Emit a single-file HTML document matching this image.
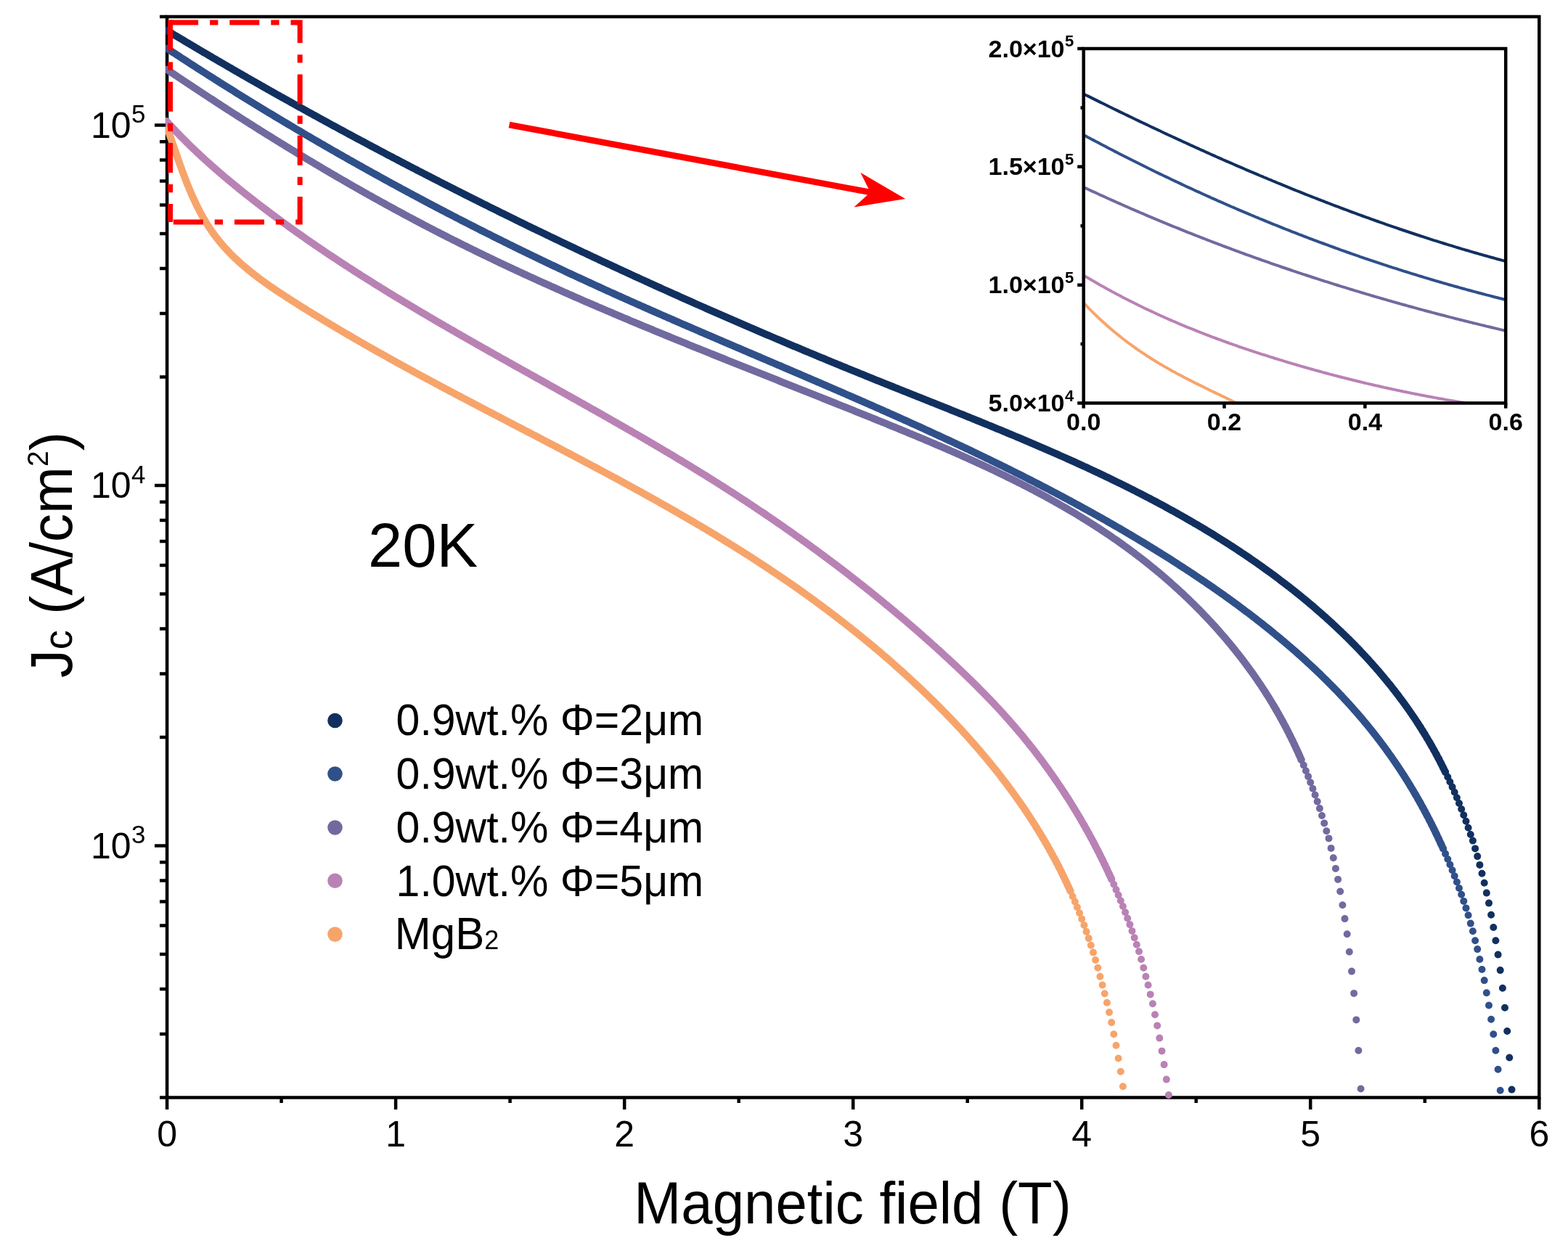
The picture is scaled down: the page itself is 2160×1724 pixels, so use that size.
<!DOCTYPE html>
<html><head><meta charset="utf-8"><title>Jc vs field</title><style>html,body{margin:0;padding:0;background:#fff;overflow:hidden}svg{display:block}</style></head>
<body><svg xmlns="http://www.w3.org/2000/svg" width="2160" height="1724" viewBox="0 0 2160 1724">
<defs><clipPath id="mc"><rect x="228" y="21" width="1894" height="1493.5"/></clipPath><clipPath id="ic"><rect x="1492.7" y="67" width="581.5" height="488.5"/></clipPath></defs>
<rect width="2160" height="1724" fill="#fff"/>
<g font-family="'Liberation Sans', Arial, Helvetica, sans-serif" fill="#000">
<path d="M213 1165.5H230.1M213 669H230.1M213 172.5H230.1M220 1512.5H230.1M220 1425.1H230.1M220 1363H230.1M220 1314.9H230.1M220 1275.6H230.1M220 1242.4H230.1M220 1213.6H230.1M220 1188.2H230.1M220 1016H230.1M220 928.6H230.1M220 866.5H230.1M220 818.4H230.1M220 779.1H230.1M220 745.9H230.1M220 717.1H230.1M220 691.7H230.1M220 519.5H230.1M220 432.1H230.1M220 370H230.1M220 321.9H230.1M220 282.6H230.1M220 249.4H230.1M220 220.6H230.1M220 195.2H230.1M220 23H230.1M230.1 1512.5V1529M545.1 1512.5V1529M860.2 1512.5V1529M1175.2 1512.5V1529M1490.2 1512.5V1529M1805.2 1512.5V1529M2120.3 1512.5V1529M387.6 1512.5V1520M702.6 1512.5V1520M1017.7 1512.5V1520M1332.7 1512.5V1520M1647.7 1512.5V1520M1962.8 1512.5V1520" stroke="#000" stroke-width="4.5" fill="none"/>
<rect x="230.1" y="23" width="1890.2" height="1489.5" fill="none" stroke="#000" stroke-width="4.5"/>
<text x="124.9" y="1182.9" font-size="50">10<tspan x="181.1" y="1162.2" font-size="35">3</tspan></text>
<text x="124.9" y="686.4" font-size="50">10<tspan x="181.1" y="665.7" font-size="35">4</tspan></text>
<text x="124.9" y="189.9" font-size="50">10<tspan x="181.1" y="169.2" font-size="35">5</tspan></text>
<text x="230.1" y="1579.5" font-size="50" text-anchor="middle">0</text>
<text x="545.1" y="1579.5" font-size="50" text-anchor="middle">1</text>
<text x="860.2" y="1579.5" font-size="50" text-anchor="middle">2</text>
<text x="1175.2" y="1579.5" font-size="50" text-anchor="middle">3</text>
<text x="1490.2" y="1579.5" font-size="50" text-anchor="middle">4</text>
<text x="1805.2" y="1579.5" font-size="50" text-anchor="middle">5</text>
<text x="2120.3" y="1579.5" font-size="50" text-anchor="middle">6</text>
</g>
<g clip-path="url(#mc)"><path d="M230.9 177.8 231.9 180.5 232.8 183.1 233.6 185.5 234.4 187.9 235.3 190.3 236.1 192.7 236.9 195.1 237.7 197.5 238.6 200 239.4 202.4 240.3 204.9 241.1 207.4 242 209.8 242.8 212.3 243.7 214.8 244.6 217.3 245.4 219.8 246.3 222.3 247.2 224.8 248.1 227.3 249 229.8 249.9 232.3 250.8 234.8 251.8 237.3 252.7 239.9 253.6 242.4 254.6 244.9 255.6 247.4 256.5 249.9 257.5 252.4 258.5 254.9 259.6 257.4 260.6 259.9 261.6 262.3 262.7 264.8 263.7 267.3 264.8 269.7 265.9 272.2 267 274.6 268.2 277 269.3 279.5 270.5 281.9 271.6 284.3 272.8 286.6 274 289 275.2 291.4 276.5 293.7 277.7 296 279 298.3 280.3 300.6 281.6 302.9 283 305.2 284.3 307.4 285.7 309.6 287.1 311.8 288.5 314 290 316.2 291.4 318.3 292.9 320.4 294.4 322.5 296 324.6 297.5 326.7 299.1 328.7 300.7 330.7 302.3 332.7 303.9 334.7 305.6 336.6 307.3 338.6 309 340.5 310.7 342.4 312.4 344.2 314.1 346.1 315.9 347.9 317.7 349.8 319.5 351.6 321.3 353.4 323.1 355.1 325 356.9 326.9 358.6 328.7 360.4 330.6 362.1 332.5 363.8 334.5 365.5 336.4 367.1 338.4 368.8 340.3 370.4 342.3 372.1 344.3 373.7 346.3 375.3 348.3 376.9 350.3 378.5 352.4 380 354.4 381.6 356.5 383.1 358.5 384.7 360.6 386.2 362.7 387.7 364.8 389.2 366.9 390.7 369 392.2 371.1 393.7 373.2 395.2 375.4 396.6 377.5 398.1 379.6 399.6 381.8 401 383.9 402.4 386.1 403.9 388.3 405.3 390.4 406.7 392.6 408.1 394.8 409.5 397 411 399.2 412.4 401.4 413.8 403.5 415.2 405.7 416.5 407.9 417.9 410.1 419.3 412.3 420.7 414.5 422.1 416.7 423.5 418.9 424.9 421.1 426.2 423.3 427.6 425.6 429 427.8 430.3 430 431.7 432.2 433.1 434.4 434.4 436.6 435.8 438.8 437.1 441.1 438.5 443.3 439.8 445.5 441.2 447.7 442.5 449.9 443.9 452.2 445.2 454.4 446.5 456.6 447.9 458.9 449.2 461.1 450.5 463.3 451.9 465.6 453.2 467.8 454.5 470 455.8 472.3 457.1 474.5 458.5 476.8 459.8 479 461.1 481.2 462.4 483.5 463.7 485.7 465 488 466.3 490.2 467.6 492.5 468.9 494.7 470.2 497 471.5 499.2 472.8 501.5 474.1 503.8 475.4 506 476.7 508.3 478 510.5 479.3 512.8 480.5 515.1 481.8 517.3 483.1 519.6 484.4 521.8 485.7 524.1 486.9 526.4 488.2 528.7 489.5 530.9 490.7 533.2 492 535.5 493.3 537.7 494.5 540 495.8 542.3 497.1 544.6 498.3 546.8 499.6 549.1 500.8 551.4 502.1 553.7 503.4 556 504.6 558.2 505.9 560.5 507.1 562.8 508.4 565.1 509.6 567.4 510.8 569.7 512.1 571.9 513.3 574.2 514.6 576.5 515.8 578.8 517.1 581.1 518.3 583.4 519.5 585.7 520.8 588 522 590.3 523.2 592.6 524.5 594.8 525.7 597.1 526.9 599.4 528.2 601.7 529.4 604 530.6 606.3 531.8 608.6 533.1 610.9 534.3 613.2 535.5 615.5 536.7 617.8 538 620.1 539.2 622.4 540.4 624.7 541.6 627 542.8 629.3 544.1 631.6 545.3 633.9 546.5 636.2 547.7 638.5 548.9 640.8 550.1 643.2 551.4 645.5 552.6 647.8 553.8 650.1 555 652.4 556.2 654.7 557.4 657 558.6 659.3 559.8 661.6 561 663.9 562.3 666.2 563.5 668.5 564.7 670.8 565.9 673.1 567.1 675.5 568.3 677.8 569.5 680.1 570.7 682.4 571.9 684.7 573.1 687 574.3 689.3 575.5 691.6 576.7 693.9 577.9 696.3 579.1 698.6 580.4 700.9 581.6 703.2 582.8 705.5 584 707.8 585.2 710.1 586.4 712.4 587.6 714.7 588.8 717.1 590 719.4 591.2 721.7 592.4 724 593.6 726.3 594.8 728.6 596 730.9 597.2 733.2 598.4 735.6 599.6 737.9 600.8 740.2 602 742.5 603.2 744.8 604.4 747.1 605.7 749.4 606.9 751.7 608.1 754 609.3 756.4 610.5 758.7 611.7 761 612.9 763.3 614.1 765.6 615.3 767.9 616.5 770.2 617.7 772.5 618.9 774.8 620.2 777.1 621.4 779.4 622.6 781.8 623.8 784.1 625 786.4 626.2 788.7 627.4 791 628.6 793.3 629.9 795.6 631.1 797.9 632.3 800.2 633.5 802.5 634.7 804.8 636 807.1 637.2 809.4 638.4 811.7 639.6 814 640.8 816.3 642.1 818.6 643.3 820.9 644.5 823.2 645.7 825.5 647 827.8 648.2 830.1 649.4 832.4 650.7 834.7 651.9 837 653.1 839.3 654.4 841.6 655.6 843.9 656.8 846.2 658.1 848.5 659.3 850.8 660.5 853 661.8 855.3 663 857.6 664.3 859.9 665.5 862.2 666.8 864.5 668 866.8 669.3 869.1 670.5 871.3 671.8 873.6 673 875.9 674.3 878.2 675.5 880.5 676.8 882.8 678 885 679.3 887.3 680.6 889.6 681.8 891.9 683.1 894.1 684.4 896.4 685.6 898.7 686.9 901 688.2 903.2 689.4 905.5 690.7 907.8 692 910.1 693.3 912.3 694.6 914.6 695.8 916.9 697.1 919.1 698.4 921.4 699.7 923.6 701 925.9 702.3 928.2 703.6 930.4 704.9 932.7 706.2 934.9 707.5 937.2 708.8 939.4 710.1 941.7 711.4 944 712.7 946.2 714 948.5 715.3 950.7 716.6 952.9 717.9 955.2 719.2 957.4 720.5 959.7 721.9 961.9 723.2 964.2 724.5 966.4 725.8 968.6 727.2 970.9 728.5 973.1 729.8 975.3 731.2 977.6 732.5 979.8 733.9 982 735.2 984.3 736.6 986.5 737.9 988.7 739.3 990.9 740.6 993.2 742 995.4 743.3 997.6 744.7 999.8 746.1 1002 747.4 1004.3 748.8 1006.5 750.2 1008.7 751.5 1010.9 752.9 1013.1 754.3 1015.3 755.7 1017.5 757.1 1019.7 758.4 1021.9 759.8 1024.1 761.2 1026.3 762.6 1028.5 764 1030.7 765.4 1032.9 766.8 1035.1 768.2 1037.3 769.7 1039.5 771.1 1041.6 772.5 1043.8 773.9 1046 775.3 1048.2 776.8 1050.4 778.2 1052.6 779.6 1054.7 781 1056.9 782.5 1059.1 783.9 1061.2 785.4 1063.4 786.8 1065.6 788.3 1067.7 789.7 1069.9 791.2 1072.1 792.6 1074.2 794.1 1076.4 795.6 1078.5 797 1080.7 798.5 1082.8 800 1085 801.5 1087.1 802.9 1089.3 804.4 1091.4 805.9 1093.6 807.4 1095.7 808.9 1097.8 810.4 1100 811.9 1102.1 813.4 1104.2 814.9 1106.3 816.4 1108.5 818 1110.6 819.5 1112.7 821 1114.8 822.5 1116.9 824.1 1119.1 825.6 1121.2 827.1 1123.3 828.7 1125.4 830.2 1127.5 831.8 1129.6 833.3 1131.7 834.9 1133.8 836.4 1135.9 838 1138 839.5 1140.1 841.1 1142.1 842.7 1144.2 844.3 1146.3 845.8 1148.4 847.4 1150.5 849 1152.5 850.6 1154.6 852.2 1156.7 853.8 1158.7 855.4 1160.8 857 1162.9 858.6 1164.9 860.2 1167 861.8 1169 863.4 1171.1 865 1173.1 866.7 1175.2 868.3 1177.2 869.9 1179.3 871.5 1181.3 873.2 1183.3 874.8 1185.3 876.5 1187.4 878.1 1189.4 879.8 1191.4 881.4 1193.4 883.1 1195.5 884.7 1197.5 886.4 1199.5 888.1 1201.5 889.7 1203.5 891.4 1205.5 893.1 1207.5 894.8 1209.5 896.4 1211.5 898.1 1213.4 899.8 1215.4 901.5 1217.4 903.2 1219.4 904.9 1221.4 906.6 1223.3 908.3 1225.3 910 1227.3 911.8 1229.2 913.5 1231.2 915.2 1233.1 916.9 1235.1 918.7 1237 920.4 1239 922.1 1240.9 923.9 1242.9 925.6 1244.8 927.4 1246.7 929.1 1248.6 930.9 1250.6 932.6 1252.5 934.4 1254.4 936.2 1256.3 937.9 1258.2 939.7 1260.1 941.5 1262 943.3 1263.9 945 1265.8 946.8 1267.7 948.6 1269.6 950.4 1271.5 952.2 1273.4 954 1275.2 955.8 1277.1 957.6 1279 959.4 1280.8 961.2 1282.7 963.1 1284.6 964.9 1286.4 966.7 1288.3 968.5 1290.1 970.4 1291.9 972.2 1293.8 974.1 1295.6 975.9 1297.4 977.8 1299.3 979.6 1301.1 981.5 1302.9 983.3 1304.7 985.2 1306.5 987.1 1308.3 988.9 1310.1 990.8 1311.9 992.7 1313.7 994.6 1315.5 996.4 1317.2 998.3 1319 1000.2 1320.8 1002.1 1322.6 1004 1324.3 1005.9 1326.1 1007.8 1327.8 1009.8 1329.6 1011.7 1331.3 1013.6 1333 1015.5 1334.8 1017.5 1336.5 1019.4 1338.2 1021.3 1339.9 1023.3 1341.6 1025.2 1343.3 1027.2 1345 1029.1 1346.7 1031.1 1348.4 1033 1350.1 1035 1351.8 1037 1353.4 1038.9 1355.1 1040.9 1356.8 1042.9 1358.4 1044.9 1360.1 1046.9 1361.7 1048.9 1363.4 1050.9 1365 1052.9 1366.6 1054.9 1368.2 1056.9 1369.9 1058.9 1371.5 1060.9 1373.1 1062.9 1374.7 1064.9 1376.3 1067 1377.9 1069 1379.4 1071 1381 1073.1 1382.6 1075.1 1384.1 1077.2 1385.7 1079.2 1387.2 1081.3 1388.8 1083.4 1390.3 1085.4 1391.9 1087.5 1393.4 1089.6 1394.9 1091.7 1396.4 1093.7 1397.9 1095.8 1399.4 1097.9 1400.9 1100 1402.4 1102.1 1403.9 1104.2 1405.4 1106.3 1406.8 1108.5 1408.3 1110.6 1409.7 1112.7 1411.2 1114.8 1412.6 1117 1414.1 1119.1 1415.5 1121.2 1416.9 1123.4 1418.3 1125.5 1419.7 1127.7 1421.1 1129.9 1422.5 1132 1423.9 1134.2 1425.3 1136.4 1426.6 1138.5 1428 1140.7 1429.3 1142.9 1430.7 1145.1 1432 1147.3 1433.4 1149.5 1434.7 1151.7 1436 1153.9 1437.3 1156.1 1438.6 1158.3 1439.9 1160.6 1441.2 1162.8 1442.5 1165 1443.8 1167.2 1445 1169.5 1446.3 1171.7 1447.5 1174 1448.8 1176.2 1450 1178.5 1451.2 1180.8 1452.5 1183 1453.7 1185.3 1454.9 1187.6 1456.1 1189.9 1457.2 1192.1 1458.4 1194.4 1459.6 1196.7 1460.8 1199 1461.9 1201.3 1463.1 1203.7 1464.2 1206 1465.3 1208.3 1466.4 1210.6 1467.5 1212.9 1468.7 1215.3 1469.7 1217.6 1470.8 1220 1471.9 1222.3 1473 1224.7 1474 1227 1474.4 1227.9" stroke="#f7a46b" stroke-width="10" stroke-linecap="round" stroke-linejoin="round" fill="none"/>
<path d="M1436.7 1155h0M1439.8 1160.4h0M1443 1165.8h0M1446.1 1171.4h0M1449.3 1177.1h0M1452.4 1183h0M1455.6 1188.9h0M1458.7 1195h0M1461.9 1201.3h0M1465 1207.7h0M1468.2 1214.3h0M1471.3 1221h0M1474.5 1228h0M1477.6 1235.2h0M1480.8 1242.6h0M1483.9 1250.3h0M1487.1 1258.2h0M1490.2 1266.4h0M1493.4 1275h0M1496.5 1283.9h0M1499.7 1293.1h0M1502.8 1302.7h0M1506 1312.6h0M1509.1 1323h0M1512.3 1333.8h0M1515.4 1345.7h0M1518.6 1357.5h0M1521.7 1369.3h0M1524.9 1381.8h0M1528 1395.1h0M1531.2 1409.1h0M1534.3 1425.2h0M1537.5 1440.7h0M1540.6 1458.5h0M1543.8 1476.8h0M1546.9 1497.2h0" stroke="#f7a46b" stroke-width="10" stroke-linecap="round" fill="none"/>
<path d="M229.3 166.9 231.1 168.9 232.9 170.9 234.8 172.9 236.6 174.9 238.4 176.8 240.3 178.8 242.1 180.7 244 182.7 245.9 184.6 247.7 186.6 249.6 188.5 251.5 190.4 253.4 192.3 255.3 194.2 257.2 196.1 259.1 198 261 199.9 263 201.8 264.9 203.6 266.8 205.5 268.8 207.3 270.7 209.2 272.7 211 274.6 212.8 276.6 214.7 278.5 216.5 280.5 218.3 282.5 220.1 284.5 221.9 286.5 223.7 288.5 225.5 290.5 227.3 292.5 229.1 294.5 230.8 296.5 232.6 298.5 234.3 300.5 236.1 302.5 237.8 304.6 239.6 306.6 241.3 308.6 243.1 310.7 244.8 312.7 246.5 314.8 248.2 316.8 249.9 318.9 251.6 321 253.3 323 255 325.1 256.7 327.2 258.4 329.2 260.1 331.3 261.8 333.4 263.4 335.5 265.1 337.6 266.8 339.7 268.4 341.8 270.1 343.9 271.7 346 273.4 348.1 275 350.2 276.7 352.3 278.3 354.4 279.9 356.5 281.6 358.6 283.2 360.7 284.8 362.9 286.4 365 288 367.1 289.6 369.2 291.2 371.4 292.9 373.5 294.4 375.6 296 377.8 297.6 379.9 299.2 382.1 300.8 384.2 302.4 386.4 304 388.5 305.5 390.7 307.1 392.8 308.7 395 310.2 397.2 311.8 399.3 313.4 401.5 314.9 403.7 316.5 405.8 318 408 319.6 410.2 321.1 412.4 322.6 414.5 324.2 416.7 325.7 418.9 327.2 421.1 328.8 423.3 330.3 425.5 331.8 427.7 333.3 429.9 334.8 432.1 336.3 434.2 337.9 436.5 339.4 438.7 340.9 440.9 342.4 443.1 343.9 445.3 345.3 447.5 346.8 449.7 348.3 451.9 349.8 454.1 351.3 456.4 352.8 458.6 354.3 460.8 355.7 463 357.2 465.2 358.7 467.5 360.1 469.7 361.6 471.9 363.1 474.2 364.5 476.4 366 478.6 367.4 480.9 368.9 483.1 370.3 485.4 371.8 487.6 373.2 489.9 374.7 492.1 376.1 494.4 377.5 496.6 379 498.9 380.4 501.1 381.8 503.4 383.2 505.6 384.7 507.9 386.1 510.2 387.5 512.4 388.9 514.7 390.3 516.9 391.8 519.2 393.2 521.5 394.6 523.8 396 526 397.4 528.3 398.8 530.6 400.2 532.8 401.6 535.1 403 537.4 404.4 539.7 405.8 542 407.2 544.2 408.6 546.5 410 548.8 411.3 551.1 412.7 553.4 414.1 555.7 415.5 558 416.9 560.3 418.2 562.6 419.6 564.9 421 567.1 422.4 569.4 423.7 571.7 425.1 574 426.5 576.3 427.8 578.6 429.2 580.9 430.6 583.2 431.9 585.6 433.3 587.9 434.6 590.2 436 592.5 437.4 594.8 438.7 597.1 440.1 599.4 441.4 601.7 442.8 604 444.1 606.3 445.5 608.7 446.8 611 448.1 613.3 449.5 615.6 450.8 617.9 452.2 620.2 453.5 622.6 454.9 624.9 456.2 627.2 457.5 629.5 458.9 631.8 460.2 634.2 461.5 636.5 462.9 638.8 464.2 641.1 465.5 643.5 466.8 645.8 468.2 648.1 469.5 650.5 470.8 652.8 472.2 655.1 473.5 657.4 474.8 659.8 476.1 662.1 477.4 664.4 478.8 666.8 480.1 669.1 481.4 671.4 482.7 673.8 484.1 676.1 485.4 678.5 486.7 680.8 488 683.1 489.3 685.5 490.6 687.8 491.9 690.1 493.3 692.5 494.6 694.8 495.9 697.2 497.2 699.5 498.5 701.8 499.8 704.2 501.1 706.5 502.5 708.9 503.8 711.2 505.1 713.5 506.4 715.9 507.7 718.2 509 720.6 510.3 722.9 511.6 725.2 512.9 727.6 514.2 729.9 515.6 732.3 516.9 734.6 518.2 737 519.5 739.3 520.8 741.6 522.1 744 523.4 746.3 524.7 748.7 526 751 527.3 753.4 528.6 755.7 530 758 531.3 760.4 532.6 762.7 533.9 765.1 535.2 767.4 536.5 769.8 537.8 772.1 539.1 774.4 540.4 776.8 541.7 779.1 543.1 781.5 544.4 783.8 545.7 786.2 547 788.5 548.3 790.8 549.6 793.2 550.9 795.5 552.2 797.9 553.6 800.2 554.9 802.5 556.2 804.9 557.5 807.2 558.8 809.6 560.1 811.9 561.5 814.2 562.8 816.6 564.1 818.9 565.4 821.2 566.7 823.6 568.1 825.9 569.4 828.3 570.7 830.6 572 832.9 573.3 835.3 574.7 837.6 576 839.9 577.3 842.3 578.7 844.6 580 846.9 581.3 849.2 582.6 851.6 584 853.9 585.3 856.2 586.6 858.6 588 860.9 589.3 863.2 590.7 865.5 592 867.9 593.3 870.2 594.7 872.5 596 874.8 597.4 877.2 598.7 879.5 600 881.8 601.4 884.1 602.7 886.4 604.1 888.8 605.4 891.1 606.8 893.4 608.1 895.7 609.5 898 610.9 900.3 612.2 902.6 613.6 905 614.9 907.3 616.3 909.6 617.7 911.9 619 914.2 620.4 916.5 621.8 918.8 623.1 921.1 624.5 923.4 625.9 925.7 627.2 928 628.6 930.3 630 932.6 631.4 934.9 632.8 937.2 634.1 939.5 635.5 941.8 636.9 944.1 638.3 946.4 639.7 948.7 641.1 951 642.5 953.2 643.9 955.5 645.3 957.8 646.7 960.1 648.1 962.4 649.5 964.7 650.9 966.9 652.3 969.2 653.7 971.5 655.1 973.8 656.5 976.1 658 978.3 659.4 980.6 660.8 982.9 662.2 985.1 663.6 987.4 665.1 989.7 666.5 991.9 667.9 994.2 669.4 996.4 670.8 998.7 672.3 1001 673.7 1003.2 675.1 1005.5 676.6 1007.7 678 1010 679.5 1012.2 680.9 1014.5 682.4 1016.7 683.9 1019 685.3 1021.2 686.8 1023.4 688.3 1025.7 689.7 1027.9 691.2 1030.2 692.7 1032.4 694.1 1034.6 695.6 1036.9 697.1 1039.1 698.6 1041.3 700.1 1043.5 701.6 1045.8 703.1 1048 704.6 1050.2 706 1052.4 707.5 1054.6 709 1056.9 710.6 1059.1 712.1 1061.3 713.6 1063.5 715.1 1065.7 716.6 1067.9 718.1 1070.1 719.6 1072.3 721.2 1074.5 722.7 1076.7 724.2 1078.9 725.7 1081.1 727.3 1083.3 728.8 1085.5 730.3 1087.7 731.9 1089.9 733.4 1092.1 735 1094.2 736.5 1096.4 738.1 1098.6 739.6 1100.8 741.2 1103 742.7 1105.1 744.3 1107.3 745.8 1109.5 747.4 1111.7 749 1113.8 750.5 1116 752.1 1118.1 753.7 1120.3 755.3 1122.5 756.8 1124.6 758.4 1126.8 760 1128.9 761.6 1131.1 763.2 1133.2 764.8 1135.4 766.4 1137.5 768 1139.7 769.6 1141.8 771.2 1144 772.8 1146.1 774.4 1148.2 776 1150.4 777.6 1152.5 779.2 1154.6 780.8 1156.8 782.5 1158.9 784.1 1161 785.7 1163.1 787.3 1165.3 789 1167.4 790.6 1169.5 792.2 1171.6 793.9 1173.7 795.5 1175.8 797.2 1177.9 798.8 1180 800.4 1182.1 802.1 1184.2 803.8 1186.3 805.4 1188.4 807.1 1190.5 808.7 1192.6 810.4 1194.7 812.1 1196.8 813.7 1198.9 815.4 1201 817.1 1203.1 818.8 1205.1 820.4 1207.2 822.1 1209.3 823.8 1211.4 825.5 1213.4 827.2 1215.5 828.9 1217.6 830.6 1219.6 832.3 1221.7 834 1223.8 835.7 1225.8 837.4 1227.9 839.1 1229.9 840.8 1232 842.5 1234 844.2 1236.1 846 1238.1 847.7 1240.2 849.4 1242.2 851.1 1244.2 852.9 1246.3 854.6 1248.3 856.3 1250.3 858.1 1252.4 859.8 1254.4 861.6 1256.4 863.3 1258.4 865.1 1260.5 866.8 1262.5 868.6 1264.5 870.3 1266.5 872.1 1268.5 873.9 1270.5 875.6 1272.5 877.4 1274.5 879.2 1276.5 880.9 1278.5 882.7 1280.5 884.5 1282.5 886.3 1284.5 888.1 1286.5 889.9 1288.5 891.6 1290.5 893.4 1292.5 895.2 1294.4 897 1296.4 898.8 1298.4 900.6 1300.4 902.5 1302.3 904.3 1304.3 906.1 1306.3 907.9 1308.2 909.7 1310.2 911.5 1312.1 913.4 1314.1 915.2 1316 917 1318 918.8 1319.9 920.7 1321.9 922.5 1323.8 924.4 1325.7 926.2 1327.7 928.1 1329.6 929.9 1331.5 931.8 1333.4 933.6 1335.4 935.5 1337.3 937.4 1339.2 939.2 1341.1 941.1 1343 943 1344.9 944.9 1346.8 946.8 1348.6 948.7 1350.5 950.6 1352.4 952.5 1354.3 954.4 1356.1 956.3 1358 958.2 1359.9 960.1 1361.7 962 1363.6 963.9 1365.4 965.9 1367.3 967.8 1369.1 969.7 1370.9 971.7 1372.7 973.6 1374.6 975.6 1376.4 977.5 1378.2 979.5 1380 981.5 1381.8 983.4 1383.6 985.4 1385.3 987.4 1387.1 989.4 1388.9 991.4 1390.7 993.4 1392.4 995.4 1394.2 997.4 1395.9 999.4 1397.7 1001.4 1399.4 1003.4 1401.1 1005.4 1402.8 1007.5 1404.5 1009.5 1406.3 1011.5 1408 1013.6 1409.7 1015.6 1411.3 1017.7 1413 1019.8 1414.7 1021.8 1416.4 1023.9 1418 1026 1419.7 1028.1 1421.3 1030.1 1423 1032.2 1424.6 1034.3 1426.2 1036.4 1427.9 1038.5 1429.5 1040.7 1431.1 1042.8 1432.7 1044.9 1434.3 1047 1435.9 1049.1 1437.5 1051.3 1439 1053.4 1440.6 1055.6 1442.2 1057.7 1443.7 1059.9 1445.3 1062 1446.8 1064.2 1448.3 1066.4 1449.9 1068.5 1451.4 1070.7 1452.9 1072.9 1454.4 1075.1 1455.9 1077.3 1457.4 1079.5 1458.9 1081.7 1460.4 1083.9 1461.9 1086.1 1463.3 1088.3 1464.8 1090.5 1466.2 1092.7 1467.7 1095 1469.1 1097.2 1470.6 1099.4 1472 1101.7 1473.4 1103.9 1474.8 1106.2 1476.2 1108.4 1477.6 1110.7 1479 1113 1480.4 1115.2 1481.8 1117.5 1483.2 1119.8 1484.5 1122.1 1485.9 1124.3 1487.2 1126.6 1488.6 1128.9 1489.9 1131.2 1491.2 1133.5 1492.6 1135.8 1493.9 1138.1 1495.2 1140.4 1496.5 1142.8 1497.8 1145.1 1499.1 1147.4 1500.4 1149.7 1501.6 1152.1 1502.9 1154.4 1504.2 1156.7 1505.4 1159.1 1506.7 1161.4 1507.9 1163.8 1509.1 1166.2 1510.4 1168.5 1511.6 1170.9 1512.8 1173.2 1514 1175.6 1515.2 1178 1516.4 1180.4 1517.5 1182.8 1518.7 1185.1 1519.9 1187.5 1521 1189.9 1522.2 1192.3 1523.3 1194.7 1524.5 1197.1 1525.6 1199.5 1526.7 1202 1527.9 1204.4 1529 1206.8 1530.1 1209.2 1531.2 1211.6 1531.2 1211.6" stroke="#b982b5" stroke-width="10" stroke-linecap="round" stroke-linejoin="round" fill="none"/>
<path d="M1493.4 1137.2h0M1496.5 1142.8h0M1499.7 1148.5h0M1502.8 1154.3h0M1506 1160.1h0M1509.1 1166.1h0M1512.3 1172.2h0M1515.4 1178.5h0M1518.6 1184.8h0M1521.7 1191.3h0M1524.9 1198h0M1528 1204.7h0M1531.2 1211.7h0M1534.3 1218.8h0M1537.5 1226.1h0M1540.6 1233.5h0M1543.8 1241.2h0M1546.9 1249h0M1550.1 1257.2h0M1553.2 1265.5h0M1556.4 1274.1h0M1559.5 1283h0M1562.7 1292.2h0M1565.8 1301.8h0M1569 1311.3h0M1572.1 1322h0M1575.3 1333.8h0M1578.4 1345.7h0M1581.6 1357.5h0M1584.7 1370.4h0M1587.9 1383.3h0M1591 1398.3h0M1594.2 1413.4h0M1597.3 1430.6h0M1600.5 1448.4h0M1603.6 1467.1h0M1606.8 1487.6h0M1609.9 1509h0" stroke="#b982b5" stroke-width="10" stroke-linecap="round" fill="none"/>
<path d="M230 95.8 232.2 97.3 234.5 98.8 236.7 100.3 239 101.9 241.2 103.4 243.5 104.9 245.7 106.4 248 107.9 250.2 109.4 252.5 110.9 254.7 112.4 257 113.9 259.3 115.4 261.5 116.9 263.8 118.4 266 119.9 268.3 121.4 270.6 122.9 272.8 124.4 275.1 125.9 277.4 127.4 279.6 128.9 281.9 130.4 284.2 131.9 286.5 133.4 288.7 134.9 291 136.3 293.3 137.8 295.6 139.3 297.8 140.8 300.1 142.3 302.4 143.8 304.7 145.3 307 146.7 309.3 148.2 311.5 149.7 313.8 151.2 316.1 152.6 318.4 154.1 320.7 155.6 323 157.1 325.3 158.5 327.6 160 329.9 161.5 332.2 162.9 334.5 164.4 336.8 165.9 339.1 167.3 341.4 168.8 343.7 170.2 346 171.7 348.3 173.1 350.6 174.6 352.9 176.1 355.2 177.5 357.5 179 359.8 180.4 362.1 181.9 364.4 183.3 366.7 184.7 369 186.2 371.3 187.6 373.7 189.1 376 190.5 378.3 191.9 380.6 193.4 382.9 194.8 385.2 196.2 387.6 197.7 389.9 199.1 392.2 200.5 394.5 202 396.9 203.4 399.2 204.8 401.5 206.2 403.8 207.6 406.2 209.1 408.5 210.5 410.8 211.9 413.2 213.3 415.5 214.7 417.8 216.1 420.2 217.5 422.5 218.9 424.8 220.3 427.2 221.7 429.5 223.1 431.9 224.5 434.2 225.9 436.6 227.3 438.9 228.7 441.2 230.1 443.6 231.5 445.9 232.9 448.3 234.3 450.6 235.7 453 237 455.3 238.4 457.7 239.8 460 241.2 462.4 242.5 464.7 243.9 467.1 245.3 469.5 246.7 471.8 248 474.2 249.4 476.5 250.7 478.9 252.1 481.3 253.5 483.6 254.8 486 256.2 488.3 257.5 490.7 258.9 493.1 260.2 495.4 261.6 497.8 262.9 500.2 264.3 502.6 265.6 504.9 266.9 507.3 268.3 509.7 269.6 512.1 270.9 514.4 272.3 516.8 273.6 519.2 274.9 521.6 276.2 523.9 277.6 526.3 278.9 528.7 280.2 531.1 281.5 533.5 282.8 535.9 284.1 538.2 285.4 540.6 286.7 543 288 545.4 289.3 547.8 290.6 550.2 291.9 552.6 293.2 555 294.5 557.4 295.8 559.8 297.1 562.1 298.4 564.5 299.6 566.9 300.9 569.3 302.2 571.7 303.5 574.1 304.7 576.5 306 578.9 307.3 581.3 308.5 583.7 309.8 586.1 311.1 588.6 312.3 591 313.6 593.4 314.8 595.8 316.1 598.2 317.3 600.6 318.6 603 319.8 605.4 321 607.8 322.3 610.2 323.5 612.7 324.7 615.1 326 617.5 327.2 619.9 328.4 622.3 329.6 624.7 330.9 627.2 332.1 629.6 333.3 632 334.5 634.4 335.7 636.9 336.9 639.3 338.1 641.7 339.3 644.1 340.5 646.6 341.7 649 342.9 651.4 344.1 653.8 345.3 656.3 346.5 658.7 347.7 661.1 348.9 663.6 350 666 351.2 668.4 352.4 670.9 353.6 673.3 354.7 675.7 355.9 678.2 357.1 680.6 358.2 683.1 359.4 685.5 360.6 687.9 361.7 690.4 362.9 692.8 364 695.3 365.2 697.7 366.4 700.2 367.5 702.6 368.7 705.1 369.8 707.5 370.9 709.9 372.1 712.4 373.2 714.8 374.4 717.3 375.5 719.7 376.6 722.2 377.8 724.7 378.9 727.1 380 729.6 381.2 732 382.3 734.5 383.4 736.9 384.5 739.4 385.6 741.8 386.8 744.3 387.9 746.8 389 749.2 390.1 751.7 391.2 754.1 392.3 756.6 393.4 759.1 394.5 761.5 395.6 764 396.7 766.5 397.8 768.9 398.9 771.4 400 773.9 401.1 776.3 402.2 778.8 403.3 781.3 404.4 783.7 405.5 786.2 406.6 788.7 407.7 791.2 408.8 793.6 409.9 796.1 410.9 798.6 412 801.1 413.1 803.5 414.2 806 415.3 808.5 416.3 811 417.4 813.4 418.5 815.9 419.5 818.4 420.6 820.9 421.7 823.4 422.8 825.9 423.8 828.3 424.9 830.8 425.9 833.3 427 835.8 428.1 838.3 429.1 840.8 430.2 843.2 431.2 845.7 432.3 848.2 433.4 850.7 434.4 853.2 435.5 855.7 436.5 858.2 437.6 860.7 438.6 863.2 439.7 865.6 440.7 868.1 441.8 870.6 442.8 873.1 443.8 875.6 444.9 878.1 445.9 880.6 447 883.1 448 885.6 449.1 888.1 450.1 890.6 451.1 893.1 452.2 895.6 453.2 898.1 454.2 900.6 455.3 903.1 456.3 905.6 457.3 908.1 458.4 910.6 459.4 913.1 460.4 915.6 461.5 918.1 462.5 920.6 463.5 923.1 464.5 925.6 465.6 928.1 466.6 930.6 467.6 933.1 468.6 935.7 469.7 938.2 470.7 940.7 471.7 943.2 472.7 945.7 473.7 948.2 474.8 950.7 475.8 953.2 476.8 955.7 477.8 958.2 478.8 960.8 479.8 963.3 480.9 965.8 481.9 968.3 482.9 970.8 483.9 973.3 484.9 975.8 485.9 978.4 487 980.9 488 983.4 489 985.9 490 988.4 491 990.9 492 993.5 493 996 494 998.5 495 1001 496.1 1003.5 497.1 1006.1 498.1 1008.6 499.1 1011.1 500.1 1013.6 501.1 1016.1 502.1 1018.7 503.1 1021.2 504.1 1023.7 505.1 1026.2 506.1 1028.8 507.1 1031.3 508.1 1033.8 509.2 1036.3 510.2 1038.9 511.2 1041.4 512.2 1043.9 513.2 1046.4 514.2 1049 515.2 1051.5 516.2 1054 517.2 1056.5 518.2 1059.1 519.2 1061.6 520.2 1064.1 521.2 1066.7 522.2 1069.2 523.2 1071.7 524.2 1074.3 525.3 1076.8 526.3 1079.3 527.3 1081.8 528.3 1084.4 529.3 1086.9 530.3 1089.4 531.3 1092 532.3 1094.5 533.3 1097 534.3 1099.6 535.3 1102.1 536.3 1104.6 537.3 1107.2 538.3 1109.7 539.4 1112.3 540.4 1114.8 541.4 1117.3 542.4 1119.9 543.4 1122.4 544.4 1124.9 545.4 1127.5 546.4 1130 547.4 1132.5 548.5 1135.1 549.5 1137.6 550.5 1140.2 551.5 1142.7 552.5 1145.2 553.5 1147.8 554.5 1150.3 555.5 1152.9 556.6 1155.4 557.6 1157.9 558.6 1160.5 559.6 1163 560.6 1165.6 561.7 1168.1 562.7 1170.6 563.7 1173.2 564.7 1175.7 565.7 1178.3 566.8 1180.8 567.8 1183.4 568.8 1185.9 569.8 1188.4 570.8 1191 571.9 1193.5 572.9 1196.1 573.9 1198.6 574.9 1201.2 576 1203.7 577 1206.2 578 1208.8 579.1 1211.3 580.1 1213.9 581.1 1216.4 582.2 1219 583.2 1221.5 584.2 1224.1 585.3 1226.6 586.3 1229.1 587.3 1231.7 588.4 1234.2 589.4 1236.8 590.5 1239.3 591.5 1241.9 592.6 1244.4 593.6 1246.9 594.7 1249.5 595.7 1252 596.8 1254.6 597.8 1257.1 598.9 1259.6 599.9 1262.2 601 1264.7 602 1267.3 603.1 1269.8 604.2 1272.3 605.2 1274.9 606.3 1277.4 607.4 1279.9 608.4 1282.5 609.5 1285 610.6 1287.5 611.7 1290 612.8 1292.6 613.8 1295.1 614.9 1297.6 616 1300.1 617.1 1302.7 618.2 1305.2 619.3 1307.7 620.4 1310.2 621.5 1312.7 622.6 1315.3 623.7 1317.8 624.8 1320.3 625.9 1322.8 627 1325.3 628.2 1327.8 629.3 1330.3 630.4 1332.8 631.5 1335.3 632.7 1337.8 633.8 1340.3 634.9 1342.8 636.1 1345.3 637.2 1347.8 638.4 1350.3 639.5 1352.8 640.7 1355.3 641.8 1357.8 643 1360.3 644.1 1362.7 645.3 1365.2 646.5 1367.7 647.6 1370.2 648.8 1372.6 650 1375.1 651.2 1377.6 652.4 1380 653.6 1382.5 654.8 1385 656 1387.4 657.2 1389.9 658.4 1392.3 659.6 1394.8 660.8 1397.2 662 1399.7 663.2 1402.1 664.5 1404.6 665.7 1407 666.9 1409.4 668.2 1411.9 669.4 1414.3 670.7 1416.7 671.9 1419.1 673.2 1421.6 674.4 1424 675.7 1426.4 677 1428.8 678.3 1431.2 679.5 1433.6 680.8 1436 682.1 1438.4 683.4 1440.8 684.7 1443.2 686 1445.6 687.3 1448 688.7 1450.3 690 1452.7 691.3 1455.1 692.6 1457.5 694 1459.8 695.3 1462.2 696.7 1464.5 698 1466.9 699.4 1469.2 700.7 1471.6 702.1 1473.9 703.5 1476.3 704.9 1478.6 706.2 1480.9 707.6 1483.3 709 1485.6 710.4 1487.9 711.8 1490.2 713.2 1492.5 714.7 1494.9 716.1 1497.2 717.5 1499.5 719 1501.8 720.4 1504 721.9 1506.3 723.3 1508.6 724.8 1510.9 726.2 1513.2 727.7 1515.4 729.2 1517.7 730.7 1520 732.2 1522.2 733.7 1524.5 735.2 1526.7 736.7 1528.9 738.2 1531.2 739.7 1533.4 741.3 1535.6 742.8 1537.9 744.3 1540.1 745.9 1542.3 747.5 1544.5 749 1546.7 750.6 1548.9 752.2 1551.1 753.8 1553.3 755.4 1555.5 757 1557.6 758.6 1559.8 760.2 1562 761.8 1564.1 763.4 1566.3 765.1 1568.4 766.7 1570.6 768.4 1572.7 770 1574.9 771.7 1577 773.3 1579.1 775 1581.2 776.7 1583.3 778.4 1585.4 780.1 1587.5 781.8 1589.6 783.5 1591.7 785.2 1593.8 787 1595.9 788.7 1598 790.4 1600 792.2 1602.1 793.9 1604.1 795.7 1606.2 797.4 1608.2 799.2 1610.3 801 1612.3 802.8 1614.3 804.6 1616.3 806.4 1618.3 808.2 1620.3 810 1622.3 811.8 1624.3 813.6 1626.3 815.5 1628.3 817.3 1630.3 819.1 1632.2 821 1634.2 822.9 1636.1 824.7 1638.1 826.6 1640 828.5 1641.9 830.4 1643.9 832.2 1645.8 834.1 1647.7 836.1 1649.6 838 1651.5 839.9 1653.4 841.8 1655.3 843.7 1657.1 845.7 1659 847.6 1660.9 849.6 1662.7 851.5 1664.6 853.5 1666.4 855.5 1668.2 857.4 1670 859.4 1671.9 861.4 1673.7 863.4 1675.5 865.4 1677.3 867.4 1679.1 869.4 1680.8 871.4 1682.6 873.5 1684.4 875.5 1686.1 877.5 1687.9 879.6 1689.6 881.6 1691.3 883.7 1693.1 885.8 1694.8 887.8 1696.5 889.9 1698.2 892 1699.9 894.1 1701.6 896.2 1703.2 898.3 1704.9 900.4 1706.6 902.5 1708.2 904.6 1709.9 906.7 1711.5 908.9 1713.1 911 1714.7 913.1 1716.3 915.3 1717.9 917.5 1719.5 919.6 1721.1 921.8 1722.7 924 1724.3 926.1 1725.8 928.3 1727.4 930.5 1728.9 932.7 1730.4 934.9 1732 937.1 1733.5 939.4 1735 941.6 1736.5 943.8 1738 946 1739.4 948.3 1740.9 950.5 1742.4 952.8 1743.8 955 1745.2 957.3 1746.7 959.6 1748.1 961.8 1749.5 964.1 1750.9 966.4 1752.3 968.7 1753.7 971 1755.1 973.3 1756.4 975.6 1757.8 977.9 1759.1 980.3 1760.5 982.6 1761.8 984.9 1763.1 987.3 1764.4 989.6 1765.7 992 1767 994.3 1768.3 996.7 1769.5 999.1 1770.8 1001.4 1772.1 1003.8 1773.3 1006.2 1774.5 1008.6 1775.7 1011 1776.9 1013.4 1778.1 1015.8 1779.3 1018.2 1780.5 1020.6 1781.7 1023.1 1782.8 1025.5 1784 1027.9 1785.1 1030.4 1786.3 1032.8 1787.4 1035.3 1788.5 1037.7 1789.6 1040.2 1790.7 1042.6 1791.8 1045.1 1792.5 1046.9" stroke="#716a9f" stroke-width="10" stroke-linecap="round" stroke-linejoin="round" fill="none"/>
<path d="M1754.8 972.9h0M1758 978.3h0M1761.1 983.8h0M1764.3 989.4h0M1767.4 995.1h0M1770.6 1001h0M1773.7 1007.1h0M1776.9 1013.3h0M1780 1019.7h0M1783.2 1026.3h0M1786.3 1033h0M1789.5 1040h0M1792.6 1047.1h0M1795.8 1054.5h0M1798.9 1062.2h0M1802.1 1070.1h0M1805.2 1078.2h0M1808.4 1086.7h0M1811.6 1095.5h0M1814.7 1104.6h0M1817.9 1114.1h0M1821 1124h0M1824.2 1134.4h0M1827.3 1145.2h0M1830.5 1155.4h0M1833.6 1168.9h0M1836.8 1182.3h0M1839.9 1196.9h0M1843.1 1211.9h0M1846.2 1228.5h0M1849.4 1247.2h0M1852.5 1266.1h0M1855.7 1287.2h0M1858.8 1311.7h0M1862 1338.6h0M1865.1 1368.9h0M1868.3 1405.4h0M1871.4 1447.8h0M1874.6 1500.5h0" stroke="#716a9f" stroke-width="10" stroke-linecap="round" fill="none"/>
<path d="M230.1 66.8 232.5 68.3 234.9 69.9 237.3 71.5 239.7 73.1 242.1 74.6 244.5 76.2 247 77.8 249.4 79.4 251.8 80.9 254.2 82.5 256.6 84 259 85.6 261.4 87.2 263.8 88.7 266.3 90.3 268.7 91.8 271.1 93.4 273.5 94.9 275.9 96.5 278.3 98 280.8 99.6 283.2 101.1 285.6 102.7 288 104.2 290.5 105.8 292.9 107.3 295.3 108.8 297.7 110.4 300.2 111.9 302.6 113.4 305 115 307.4 116.5 309.9 118 312.3 119.6 314.7 121.1 317.2 122.6 319.6 124.1 322 125.6 324.5 127.2 326.9 128.7 329.4 130.2 331.8 131.7 334.2 133.2 336.7 134.7 339.1 136.2 341.6 137.7 344 139.2 346.4 140.7 348.9 142.2 351.3 143.7 353.8 145.2 356.2 146.7 358.7 148.2 361.1 149.7 363.6 151.2 366 152.7 368.5 154.2 370.9 155.7 373.4 157.1 375.8 158.6 378.3 160.1 380.8 161.6 383.2 163.1 385.7 164.5 388.1 166 390.6 167.5 393 168.9 395.5 170.4 398 171.9 400.4 173.3 402.9 174.8 405.4 176.3 407.8 177.7 410.3 179.2 412.8 180.6 415.2 182.1 417.7 183.6 420.2 185 422.6 186.5 425.1 187.9 427.6 189.4 430.1 190.8 432.5 192.2 435 193.7 437.5 195.1 440 196.6 442.4 198 444.9 199.4 447.4 200.9 449.9 202.3 452.4 203.7 454.8 205.2 457.3 206.6 459.8 208 462.3 209.4 464.8 210.9 467.3 212.3 469.8 213.7 472.2 215.1 474.7 216.5 477.2 217.9 479.7 219.4 482.2 220.8 484.7 222.2 487.2 223.6 489.7 225 492.2 226.4 494.7 227.8 497.2 229.2 499.7 230.6 502.2 232 504.7 233.4 507.2 234.8 509.7 236.2 512.2 237.6 514.7 239 517.2 240.3 519.7 241.7 522.2 243.1 524.7 244.5 527.2 245.9 529.7 247.3 532.2 248.6 534.7 250 537.2 251.4 539.8 252.8 542.3 254.1 544.8 255.5 547.3 256.9 549.8 258.2 552.3 259.6 554.8 261 557.4 262.3 559.9 263.7 562.4 265 564.9 266.4 567.4 267.7 570 269.1 572.5 270.4 575 271.8 577.5 273.1 580.1 274.5 582.6 275.8 585.1 277.2 587.6 278.5 590.2 279.9 592.7 281.2 595.2 282.5 597.8 283.9 600.3 285.2 602.8 286.5 605.4 287.9 607.9 289.2 610.4 290.5 613 291.8 615.5 293.2 618 294.5 620.6 295.8 623.1 297.1 625.7 298.4 628.2 299.8 630.8 301.1 633.3 302.4 635.8 303.7 638.4 305 640.9 306.3 643.5 307.6 646 308.9 648.6 310.2 651.1 311.5 653.7 312.8 656.2 314.1 658.8 315.4 661.3 316.7 663.9 318 666.5 319.3 669 320.6 671.6 321.9 674.1 323.1 676.7 324.4 679.2 325.7 681.8 327 684.4 328.3 686.9 329.6 689.5 330.8 692.1 332.1 694.6 333.4 697.2 334.6 699.7 335.9 702.3 337.2 704.9 338.4 707.5 339.7 710 341 712.6 342.2 715.2 343.5 717.7 344.8 720.3 346 722.9 347.3 725.5 348.5 728 349.8 730.6 351 733.2 352.3 735.8 353.5 738.4 354.8 740.9 356 743.5 357.2 746.1 358.5 748.7 359.7 751.3 361 753.8 362.2 756.4 363.4 759 364.7 761.6 365.9 764.2 367.1 766.8 368.3 769.4 369.6 772 370.8 774.6 372 777.2 373.2 779.7 374.4 782.3 375.7 784.9 376.9 787.5 378.1 790.1 379.3 792.7 380.5 795.3 381.7 797.9 382.9 800.5 384.1 803.1 385.3 805.7 386.5 808.3 387.7 810.9 388.9 813.5 390.1 816.1 391.3 818.8 392.5 821.4 393.7 824 394.9 826.6 396.1 829.2 397.3 831.8 398.5 834.4 399.7 837 400.9 839.6 402 842.3 403.2 844.9 404.4 847.5 405.6 850.1 406.8 852.7 407.9 855.3 409.1 857.9 410.3 860.6 411.5 863.2 412.6 865.8 413.8 868.4 415 871 416.1 873.7 417.3 876.3 418.5 878.9 419.6 881.5 420.8 884.2 422 886.8 423.1 889.4 424.3 892 425.4 894.7 426.6 897.3 427.8 899.9 428.9 902.5 430.1 905.2 431.2 907.8 432.4 910.4 433.5 913.1 434.7 915.7 435.8 918.3 437 920.9 438.1 923.6 439.3 926.2 440.4 928.8 441.6 931.5 442.7 934.1 443.9 936.7 445 939.4 446.2 942 447.3 944.6 448.4 947.3 449.6 949.9 450.7 952.6 451.9 955.2 453 957.8 454.1 960.5 455.3 963.1 456.4 965.7 457.6 968.4 458.7 971 459.8 973.7 461 976.3 462.1 978.9 463.2 981.6 464.4 984.2 465.5 986.8 466.6 989.5 467.8 992.1 468.9 994.8 470 997.4 471.2 1000 472.3 1002.7 473.4 1005.3 474.6 1008 475.7 1010.6 476.8 1013.3 478 1015.9 479.1 1018.5 480.2 1021.2 481.3 1023.8 482.5 1026.5 483.6 1029.1 484.7 1031.7 485.9 1034.4 487 1037 488.1 1039.7 489.2 1042.3 490.4 1045 491.5 1047.6 492.6 1050.2 493.8 1052.9 494.9 1055.5 496 1058.2 497.1 1060.8 498.3 1063.5 499.4 1066.1 500.5 1068.7 501.7 1071.4 502.8 1074 503.9 1076.7 505 1079.3 506.2 1081.9 507.3 1084.6 508.4 1087.2 509.6 1089.9 510.7 1092.5 511.8 1095.2 513 1097.8 514.1 1100.4 515.2 1103.1 516.4 1105.7 517.5 1108.4 518.6 1111 519.8 1113.6 520.9 1116.3 522 1118.9 523.2 1121.6 524.3 1124.2 525.4 1126.8 526.6 1129.5 527.7 1132.1 528.8 1134.7 530 1137.4 531.1 1140 532.3 1142.7 533.4 1145.3 534.5 1147.9 535.7 1150.6 536.8 1153.2 538 1155.8 539.1 1158.5 540.2 1161.1 541.4 1163.7 542.5 1166.4 543.7 1169 544.8 1171.6 546 1174.3 547.1 1176.9 548.3 1179.5 549.4 1182.2 550.6 1184.8 551.7 1187.4 552.9 1190.1 554 1192.7 555.2 1195.3 556.3 1197.9 557.5 1200.6 558.6 1203.2 559.8 1205.8 561 1208.4 562.1 1211.1 563.3 1213.7 564.4 1216.3 565.6 1218.9 566.8 1221.6 567.9 1224.2 569.1 1226.8 570.3 1229.4 571.4 1232.1 572.6 1234.7 573.8 1237.3 574.9 1239.9 576.1 1242.5 577.3 1245.1 578.5 1247.8 579.6 1250.4 580.8 1253 582 1255.6 583.2 1258.2 584.4 1260.8 585.5 1263.4 586.7 1266.1 587.9 1268.7 589.1 1271.3 590.3 1273.9 591.5 1276.5 592.7 1279.1 593.9 1281.7 595.1 1284.3 596.3 1286.9 597.5 1289.5 598.7 1292.1 599.9 1294.7 601.1 1297.3 602.3 1299.9 603.5 1302.5 604.7 1305.1 605.9 1307.7 607.1 1310.3 608.3 1312.9 609.5 1315.5 610.7 1318.1 612 1320.7 613.2 1323.3 614.4 1325.9 615.6 1328.5 616.9 1331.1 618.1 1333.7 619.3 1336.3 620.5 1338.8 621.8 1341.4 623 1344 624.2 1346.6 625.5 1349.2 626.7 1351.8 628 1354.4 629.2 1356.9 630.4 1359.5 631.7 1362.1 632.9 1364.7 634.2 1367.2 635.5 1369.8 636.7 1372.4 638 1375 639.2 1377.5 640.5 1380.1 641.8 1382.7 643 1385.2 644.3 1387.8 645.6 1390.4 646.8 1392.9 648.1 1395.5 649.4 1398.1 650.7 1400.6 652 1403.2 653.2 1405.7 654.5 1408.3 655.8 1410.8 657.1 1413.4 658.4 1416 659.7 1418.5 661 1421.1 662.3 1423.6 663.6 1426.2 664.9 1428.7 666.2 1431.2 667.5 1433.8 668.8 1436.3 670.2 1438.9 671.5 1441.4 672.8 1444 674.1 1446.5 675.4 1449 676.8 1451.6 678.1 1454.1 679.4 1456.6 680.8 1459.2 682.1 1461.7 683.5 1464.2 684.8 1466.7 686.2 1469.3 687.5 1471.8 688.9 1474.3 690.2 1476.8 691.6 1479.3 692.9 1481.9 694.3 1484.4 695.7 1486.9 697 1489.4 698.4 1491.9 699.8 1494.4 701.2 1496.9 702.5 1499.4 703.9 1501.9 705.3 1504.4 706.7 1506.9 708.1 1509.4 709.5 1511.9 710.9 1514.4 712.3 1516.9 713.7 1519.4 715.1 1521.9 716.5 1524.4 717.9 1526.9 719.4 1529.4 720.8 1531.9 722.2 1534.3 723.6 1536.8 725.1 1539.3 726.5 1541.8 727.9 1544.3 729.4 1546.7 730.8 1549.2 732.3 1551.7 733.7 1554.1 735.2 1556.6 736.6 1559.1 738.1 1561.5 739.6 1564 741 1566.5 742.5 1568.9 744 1571.4 745.5 1573.8 746.9 1576.3 748.4 1578.7 749.9 1581.2 751.4 1583.6 752.9 1586.1 754.4 1588.5 755.9 1591 757.4 1593.4 758.9 1595.8 760.4 1598.3 761.9 1600.7 763.5 1603.1 765 1605.6 766.5 1608 768.1 1610.4 769.6 1612.8 771.1 1615.3 772.7 1617.7 774.2 1620.1 775.8 1622.5 777.3 1624.9 778.9 1627.3 780.4 1629.7 782 1632.2 783.6 1634.6 785.2 1637 786.7 1639.4 788.3 1641.8 789.9 1644.2 791.5 1646.5 793.1 1648.9 794.7 1651.3 796.3 1653.7 797.9 1656.1 799.5 1658.5 801.1 1660.9 802.7 1663.2 804.4 1665.6 806 1668 807.6 1670.3 809.2 1672.7 810.9 1675 812.5 1677.4 814.2 1679.8 815.8 1682.1 817.5 1684.5 819.1 1686.8 820.8 1689.1 822.5 1691.5 824.2 1693.8 825.8 1696.1 827.5 1698.5 829.2 1700.8 830.9 1703.1 832.6 1705.4 834.3 1707.7 836 1710 837.7 1712.3 839.4 1714.6 841.2 1716.9 842.9 1719.2 844.6 1721.5 846.3 1723.8 848.1 1726 849.8 1728.3 851.6 1730.6 853.3 1732.8 855.1 1735.1 856.9 1737.4 858.6 1739.6 860.4 1741.9 862.2 1744.1 864 1746.3 865.7 1748.6 867.5 1750.8 869.3 1753 871.1 1755.2 873 1757.4 874.8 1759.6 876.6 1761.8 878.4 1764 880.2 1766.2 882.1 1768.4 883.9 1770.6 885.8 1772.8 887.6 1774.9 889.5 1777.1 891.3 1779.3 893.2 1781.4 895.1 1783.6 896.9 1785.7 898.8 1787.8 900.7 1790 902.6 1792.1 904.5 1794.2 906.4 1796.3 908.3 1798.4 910.2 1800.5 912.2 1802.6 914.1 1804.7 916 1806.8 918 1808.9 919.9 1810.9 921.9 1813 923.8 1815.1 925.8 1817.1 927.7 1819.2 929.7 1821.2 931.7 1823.2 933.7 1825.2 935.7 1827.3 937.7 1829.3 939.7 1831.3 941.7 1833.3 943.7 1835.3 945.7 1837.2 947.7 1839.2 949.8 1841.2 951.8 1843.2 953.8 1845.1 955.9 1847.1 958 1849 960 1850.9 962.1 1852.9 964.2 1854.8 966.2 1856.7 968.3 1858.6 970.4 1860.5 972.5 1862.4 974.6 1864.2 976.7 1866.1 978.9 1868 981 1869.8 983.1 1871.7 985.3 1873.5 987.4 1875.4 989.5 1877.2 991.7 1879 993.9 1880.8 996 1882.6 998.2 1884.4 1000.4 1886.2 1002.6 1888 1004.8 1889.7 1007 1891.5 1009.2 1893.2 1011.4 1895 1013.6 1896.7 1015.9 1898.4 1018.1 1900.1 1020.4 1901.8 1022.6 1903.5 1024.9 1905.2 1027.1 1906.9 1029.4 1908.6 1031.7 1910.2 1034 1911.9 1036.3 1913.5 1038.6 1915.2 1040.9 1916.8 1043.2 1918.4 1045.5 1920 1047.8 1921.6 1050.1 1923.2 1052.5 1924.8 1054.8 1926.4 1057.2 1927.9 1059.5 1929.5 1061.9 1931 1064.3 1932.5 1066.6 1934.1 1069 1935.6 1071.4 1937.1 1073.8 1938.6 1076.2 1940.1 1078.6 1941.6 1081 1943 1083.5 1944.5 1085.9 1946 1088.3 1947.4 1090.8 1948.8 1093.2 1950.3 1095.7 1951.7 1098.1 1953.1 1100.6 1954.5 1103 1955.9 1105.5 1957.3 1108 1958.6 1110.5 1960 1113 1961.4 1115.5 1962.7 1118 1964 1120.5 1965.4 1123 1966.7 1125.5 1968 1128 1969.3 1130.5 1970.6 1133.1 1971.9 1135.6 1973.2 1138.1 1974.4 1140.7 1975.7 1143.2 1976.9 1145.8 1978.2 1148.4 1979.4 1150.9 1980.6 1153.5 1981.8 1156.1 1983 1158.7 1984.2 1161.3 1985.4 1163.9 1986.6 1166.4 1987.8 1169 1987.9 1169.4" stroke="#30508a" stroke-width="10" stroke-linecap="round" stroke-linejoin="round" fill="none"/>
<path d="M1950.2 1095.5h0M1953.3 1101h0M1956.5 1106.5h0M1959.6 1112.2h0M1962.8 1118.1h0M1965.9 1124h0M1969.1 1130.1h0M1972.2 1136.3h0M1975.4 1142.6h0M1978.5 1149.1h0M1981.7 1155.7h0M1984.8 1162.5h0M1988 1169.5h0M1991.1 1176.6h0M1994.3 1184h0M1997.4 1191.5h0M2000.6 1199.3h0M2003.7 1207.3h0M2006.9 1215.5h0M2010 1224h0M2013.2 1232.8h0M2016.3 1241.9h0M2019.5 1251.4h0M2022.6 1261.2h0M2025.8 1272.6h0M2028.9 1283.3h0M2032.1 1296.2h0M2035.2 1308.1h0M2038.4 1322h0M2041.5 1336h0M2044.7 1351.1h0M2047.8 1368.3h0M2051 1385.5h0M2054.1 1404.8h0M2057.3 1425.3h0M2060.4 1447.8h0M2063.6 1473.7h0M2066.7 1502.7h0" stroke="#30508a" stroke-width="10" stroke-linecap="round" fill="none"/>
<path d="M230.3 42.2 232.5 43.5 234.6 44.8 236.8 46.1 238.9 47.4 241.1 48.7 243.2 49.9 245.4 51.2 247.5 52.5 249.7 53.8 251.8 55.1 254 56.4 256.2 57.7 258.3 59 260.5 60.2 262.6 61.5 264.8 62.8 266.9 64.1 269.1 65.4 271.3 66.6 273.4 67.9 275.6 69.2 277.8 70.5 279.9 71.8 282.1 73 284.3 74.3 286.4 75.6 288.6 76.9 290.8 78.1 292.9 79.4 295.1 80.7 297.3 81.9 299.5 83.2 301.6 84.5 303.8 85.7 306 87 308.2 88.3 310.3 89.5 312.5 90.8 314.7 92.1 316.9 93.3 319 94.6 321.2 95.9 323.4 97.1 325.6 98.4 327.8 99.6 329.9 100.9 332.1 102.1 334.3 103.4 336.5 104.7 338.7 105.9 340.9 107.2 343 108.4 345.2 109.7 347.4 110.9 349.6 112.2 351.8 113.4 354 114.7 356.2 115.9 358.4 117.1 360.5 118.4 362.7 119.6 364.9 120.9 367.1 122.1 369.3 123.4 371.5 124.6 373.7 125.8 375.9 127.1 378.1 128.3 380.3 129.6 382.5 130.8 384.7 132 386.9 133.3 389.1 134.5 391.3 135.7 393.5 137 395.7 138.2 397.9 139.4 400.1 140.6 402.3 141.9 404.5 143.1 406.7 144.3 408.9 145.6 411.1 146.8 413.3 148 415.5 149.2 417.7 150.4 419.9 151.7 422.1 152.9 424.3 154.1 426.5 155.3 428.8 156.5 431 157.8 433.2 159 435.4 160.2 437.6 161.4 439.8 162.6 442 163.8 444.2 165 446.4 166.3 448.7 167.5 450.9 168.7 453.1 169.9 455.3 171.1 457.5 172.3 459.7 173.5 461.9 174.7 464.2 175.9 466.4 177.1 468.6 178.3 470.8 179.5 473 180.7 475.2 181.9 477.5 183.1 479.7 184.3 481.9 185.5 484.1 186.7 486.3 187.9 488.6 189.1 490.8 190.3 493 191.5 495.2 192.7 497.5 193.9 499.7 195 501.9 196.2 504.1 197.4 506.4 198.6 508.6 199.8 510.8 201 513 202.2 515.3 203.3 517.5 204.5 519.7 205.7 521.9 206.9 524.2 208.1 526.4 209.2 528.6 210.4 530.9 211.6 533.1 212.8 535.3 214 537.5 215.1 539.8 216.3 542 217.5 544.2 218.6 546.5 219.8 548.7 221 550.9 222.2 553.2 223.3 555.4 224.5 557.6 225.7 559.9 226.8 562.1 228 564.3 229.2 566.6 230.3 568.8 231.5 571 232.6 573.3 233.8 575.5 235 577.7 236.1 580 237.3 582.2 238.4 584.5 239.6 586.7 240.7 588.9 241.9 591.2 243 593.4 244.2 595.7 245.3 597.9 246.5 600.1 247.6 602.4 248.8 604.6 249.9 606.9 251.1 609.1 252.2 611.3 253.4 613.6 254.5 615.8 255.7 618.1 256.8 620.3 257.9 622.5 259.1 624.8 260.2 627 261.4 629.3 262.5 631.5 263.6 633.8 264.8 636 265.9 638.2 267 640.5 268.2 642.7 269.3 645 270.4 647.2 271.6 649.5 272.7 651.7 273.8 654 274.9 656.2 276.1 658.5 277.2 660.7 278.3 663 279.5 665.2 280.6 667.5 281.7 669.7 282.8 671.9 283.9 674.2 285.1 676.4 286.2 678.7 287.3 680.9 288.4 683.2 289.5 685.5 290.6 687.7 291.8 690 292.9 692.2 294 694.5 295.1 696.7 296.2 699 297.3 701.2 298.4 703.5 299.5 705.7 300.6 708 301.7 710.2 302.9 712.5 304 714.7 305.1 717 306.2 719.3 307.3 721.5 308.4 723.8 309.5 726 310.6 728.3 311.7 730.5 312.8 732.8 313.9 735 315 737.3 316.1 739.6 317.2 741.8 318.2 744.1 319.3 746.3 320.4 748.6 321.5 750.9 322.6 753.1 323.7 755.4 324.8 757.6 325.9 759.9 327 762.2 328.1 764.4 329.1 766.7 330.2 769 331.3 771.2 332.4 773.5 333.5 775.7 334.6 778 335.6 780.3 336.7 782.5 337.8 784.8 338.9 787.1 339.9 789.3 341 791.6 342.1 793.9 343.2 796.1 344.2 798.4 345.3 800.7 346.4 802.9 347.5 805.2 348.5 807.5 349.6 809.7 350.7 812 351.7 814.3 352.8 816.6 353.9 818.8 354.9 821.1 356 823.4 357.1 825.6 358.1 827.9 359.2 830.2 360.3 832.5 361.3 834.7 362.4 837 363.4 839.3 364.5 841.6 365.6 843.8 366.6 846.1 367.7 848.4 368.7 850.7 369.8 852.9 370.8 855.2 371.9 857.5 372.9 859.8 374 862 375 864.3 376.1 866.6 377.1 868.9 378.2 871.1 379.2 873.4 380.3 875.7 381.3 878 382.4 880.3 383.4 882.5 384.5 884.8 385.5 887.1 386.5 889.4 387.6 891.7 388.6 894 389.7 896.2 390.7 898.5 391.7 900.8 392.8 903.1 393.8 905.4 394.9 907.7 395.9 909.9 396.9 912.2 398 914.5 399 916.8 400 919.1 401 921.4 402.1 923.7 403.1 926 404.1 928.2 405.2 930.5 406.2 932.8 407.2 935.1 408.2 937.4 409.3 939.7 410.3 942 411.3 944.3 412.3 946.6 413.4 948.9 414.4 951.2 415.4 953.4 416.4 955.7 417.4 958 418.5 960.3 419.5 962.6 420.5 964.9 421.5 967.2 422.5 969.5 423.5 971.8 424.6 974.1 425.6 976.4 426.6 978.7 427.6 981 428.6 983.3 429.6 985.6 430.6 987.9 431.6 990.2 432.6 992.5 433.6 994.8 434.7 997.1 435.7 999.4 436.7 1001.7 437.7 1004 438.7 1006.3 439.7 1008.6 440.7 1010.9 441.7 1013.2 442.7 1015.5 443.7 1017.8 444.7 1020.1 445.7 1022.4 446.7 1024.7 447.7 1027 448.7 1029.3 449.7 1031.6 450.7 1034 451.7 1036.3 452.6 1038.6 453.6 1040.9 454.6 1043.2 455.6 1045.5 456.6 1047.8 457.6 1050.1 458.6 1052.4 459.6 1054.7 460.6 1057.1 461.6 1059.4 462.5 1061.7 463.5 1064 464.5 1066.3 465.5 1068.6 466.5 1070.9 467.5 1073.2 468.4 1075.6 469.4 1077.9 470.4 1080.2 471.4 1082.5 472.4 1084.8 473.3 1087.1 474.3 1089.5 475.3 1091.8 476.3 1094.1 477.3 1096.4 478.2 1098.7 479.2 1101.1 480.2 1103.4 481.2 1105.7 482.1 1108 483.1 1110.3 484.1 1112.7 485 1115 486 1117.3 487 1119.6 487.9 1122 488.9 1124.3 489.9 1126.6 490.8 1128.9 491.8 1131.3 492.8 1133.6 493.7 1135.9 494.7 1138.2 495.7 1140.6 496.6 1142.9 497.6 1145.2 498.6 1147.6 499.5 1149.9 500.5 1152.2 501.4 1154.5 502.4 1156.9 503.3 1159.2 504.3 1161.5 505.3 1163.9 506.2 1166.2 507.2 1168.5 508.1 1170.9 509.1 1173.2 510 1175.5 511 1177.9 511.9 1180.2 512.9 1182.6 513.8 1184.9 514.8 1187.2 515.7 1189.6 516.7 1191.9 517.6 1194.2 518.6 1196.6 519.5 1198.9 520.5 1201.3 521.4 1203.6 522.4 1205.9 523.3 1208.3 524.3 1210.6 525.2 1213 526.1 1215.3 527.1 1217.7 528 1220 529 1222.3 529.9 1224.7 530.8 1227 531.8 1229.4 532.7 1231.7 533.7 1234.1 534.6 1236.4 535.5 1238.8 536.5 1241.1 537.4 1243.5 538.4 1245.8 539.3 1248.1 540.2 1250.5 541.2 1252.8 542.1 1255.2 543 1257.5 544 1259.9 544.9 1262.2 545.8 1264.6 546.8 1266.9 547.7 1269.3 548.7 1271.6 549.6 1274 550.5 1276.3 551.5 1278.7 552.4 1281 553.3 1283.4 554.3 1285.7 555.2 1288.1 556.2 1290.4 557.1 1292.8 558 1295.1 559 1297.5 559.9 1299.8 560.9 1302.2 561.8 1304.5 562.7 1306.9 563.7 1309.2 564.6 1311.5 565.6 1313.9 566.5 1316.2 567.5 1318.6 568.4 1320.9 569.3 1323.3 570.3 1325.6 571.2 1328 572.2 1330.3 573.1 1332.7 574.1 1335 575 1337.4 576 1339.7 576.9 1342 577.9 1344.4 578.8 1346.7 579.8 1349.1 580.7 1351.4 581.7 1353.8 582.6 1356.1 583.6 1358.4 584.5 1360.8 585.5 1363.1 586.5 1365.5 587.4 1367.8 588.4 1370.1 589.3 1372.5 590.3 1374.8 591.3 1377.1 592.2 1379.5 593.2 1381.8 594.2 1384.2 595.1 1386.5 596.1 1388.8 597.1 1391.2 598.1 1393.5 599 1395.8 600 1398.2 601 1400.5 602 1402.8 602.9 1405.1 603.9 1407.5 604.9 1409.8 605.9 1412.1 606.9 1414.5 607.9 1416.8 608.8 1419.1 609.8 1421.4 610.8 1423.8 611.8 1426.1 612.8 1428.4 613.8 1430.7 614.8 1433 615.8 1435.4 616.8 1437.7 617.8 1440 618.8 1442.3 619.8 1444.6 620.8 1446.9 621.8 1449.2 622.9 1451.6 623.9 1453.9 624.9 1456.2 625.9 1458.5 626.9 1460.8 628 1463.1 629 1465.4 630 1467.7 631 1470 632.1 1472.3 633.1 1474.6 634.1 1476.9 635.2 1479.2 636.2 1481.5 637.2 1483.8 638.3 1486.1 639.3 1488.4 640.4 1490.7 641.4 1493 642.5 1495.3 643.5 1497.6 644.6 1499.9 645.7 1502.1 646.7 1504.4 647.8 1506.7 648.9 1509 649.9 1511.3 651 1513.6 652.1 1515.8 653.2 1518.1 654.2 1520.4 655.3 1522.7 656.4 1524.9 657.5 1527.2 658.6 1529.5 659.7 1531.7 660.8 1534 661.9 1536.3 663 1538.5 664.1 1540.8 665.2 1543.1 666.3 1545.3 667.4 1547.6 668.5 1549.8 669.6 1552.1 670.8 1554.3 671.9 1556.6 673 1558.8 674.1 1561.1 675.3 1563.3 676.4 1565.6 677.6 1567.8 678.7 1570.1 679.9 1572.3 681 1574.5 682.2 1576.8 683.3 1579 684.5 1581.2 685.6 1583.5 686.8 1585.7 688 1587.9 689.1 1590.2 690.3 1592.4 691.5 1594.6 692.7 1596.8 693.9 1599 695.1 1601.3 696.2 1603.5 697.4 1605.7 698.6 1607.9 699.9 1610.1 701.1 1612.3 702.3 1614.5 703.5 1616.7 704.7 1618.9 705.9 1621.1 707.1 1623.3 708.4 1625.5 709.6 1627.7 710.8 1629.9 712.1 1632.1 713.3 1634.3 714.6 1636.4 715.8 1638.6 717.1 1640.8 718.4 1643 719.6 1645.1 720.9 1647.3 722.2 1649.5 723.4 1651.7 724.7 1653.8 726 1656 727.3 1658.1 728.6 1660.3 729.9 1662.5 731.2 1664.6 732.5 1666.8 733.8 1668.9 735.1 1671.1 736.4 1673.2 737.7 1675.4 739.1 1677.5 740.4 1679.6 741.7 1681.8 743.1 1683.9 744.4 1686 745.8 1688.2 747.1 1690.3 748.5 1692.4 749.8 1694.5 751.2 1696.6 752.6 1698.8 753.9 1700.9 755.3 1703 756.7 1705.1 758.1 1707.2 759.5 1709.3 760.9 1711.4 762.3 1713.5 763.7 1715.6 765.1 1717.7 766.5 1719.8 767.9 1721.9 769.4 1723.9 770.8 1726 772.2 1728.1 773.7 1730.2 775.1 1732.2 776.6 1734.3 778 1736.4 779.5 1738.4 780.9 1740.5 782.4 1742.5 783.9 1744.6 785.4 1746.6 786.8 1748.7 788.3 1750.7 789.8 1752.8 791.3 1754.8 792.8 1756.8 794.3 1758.8 795.8 1760.9 797.3 1762.9 798.9 1764.9 800.4 1766.9 801.9 1768.9 803.4 1770.9 805 1772.9 806.5 1774.9 808.1 1776.9 809.6 1778.9 811.2 1780.9 812.7 1782.9 814.3 1784.8 815.9 1786.8 817.5 1788.8 819 1790.7 820.6 1792.7 822.2 1794.6 823.8 1796.6 825.4 1798.5 827 1800.5 828.6 1802.4 830.3 1804.3 831.9 1806.3 833.5 1808.2 835.1 1810.1 836.8 1812 838.4 1813.9 840.1 1815.8 841.7 1817.7 843.4 1819.6 845 1821.5 846.7 1823.4 848.4 1825.3 850 1827.1 851.7 1829 853.4 1830.9 855.1 1832.7 856.8 1834.6 858.5 1836.4 860.2 1838.3 861.9 1840.1 863.6 1841.9 865.3 1843.8 867.1 1845.6 868.8 1847.4 870.5 1849.2 872.3 1851 874 1852.8 875.8 1854.6 877.5 1856.4 879.3 1858.2 881 1859.9 882.8 1861.7 884.6 1863.5 886.4 1865.2 888.1 1867 889.9 1868.7 891.7 1870.5 893.5 1872.2 895.3 1873.9 897.1 1875.6 899 1877.3 900.8 1879.3 902.9 1881.3 905 1883.3 907.2 1885.3 909.3 1887.2 911.5 1889.2 913.7 1891.1 915.8 1893 918 1895 920.2 1896.9 922.4 1898.8 924.6 1900.7 926.8 1902.5 929 1904.4 931.2 1906.3 933.5 1908.1 935.7 1910 937.9 1911.8 940.2 1913.7 942.4 1915.5 944.7 1917.3 947 1919.1 949.3 1920.9 951.5 1922.6 953.8 1924.4 956.1 1926.2 958.4 1927.9 960.8 1929.6 963.1 1931.4 965.4 1933.1 967.7 1934.8 970.1 1936.5 972.4 1938.2 974.8 1939.9 977.2 1941.5 979.5 1943.2 981.9 1944.8 984.3 1946.4 986.7 1948.1 989.1 1949.7 991.5 1951.3 993.9 1952.9 996.3 1954.4 998.8 1956 1001.2 1957.5 1003.6 1959.1 1006.1 1960.6 1008.6 1962.1 1011 1963.6 1013.5 1965.1 1016 1966.6 1018.5 1968.1 1021 1969.6 1023.5 1971 1026 1972.4 1028.5 1973.9 1031 1975.3 1033.6 1976.7 1036.1 1978.1 1038.6 1979.4 1041.2 1980.8 1043.8 1982.2 1046.3 1983.5 1048.9 1984.8 1051.5 1986.1 1054.1 1987.4 1056.7 1988.7 1059.3 1990 1061.9 1991.1 1064.1" stroke="#11305f" stroke-width="10" stroke-linecap="round" stroke-linejoin="round" fill="none"/>
<path d="M1953.3 997h0M1956.5 1001.9h0M1959.6 1006.9h0M1962.8 1012h0M1965.9 1017.3h0M1969.1 1022.6h0M1972.2 1028.1h0M1975.4 1033.7h0M1978.5 1039.5h0M1981.7 1045.4h0M1984.8 1051.5h0M1988 1057.7h0M1991.1 1064.1h0M1994.3 1070.7h0M1997.4 1077.5h0M2000.6 1084.6h0M2003.7 1091.8h0M2006.9 1099.3h0M2010 1107h0M2013.2 1115h0M2016.3 1123.2h0M2019.5 1131.8h0M2022.6 1140.7h0M2025.8 1150h0M2028.9 1158.6h0M2032.1 1169.4h0M2035.2 1180.1h0M2038.4 1191.9h0M2041.5 1203.8h0M2044.7 1216.7h0M2047.8 1230.6h0M2051 1244.6h0M2054.1 1260.8h0M2057.3 1278h0M2060.4 1296.2h0M2063.6 1315.6h0M2066.7 1337.1h0M2069.9 1361.8h0M2073 1388.7h0M2076.2 1421h0M2079.3 1457.5h0M2082.5 1501.6h0" stroke="#11305f" stroke-width="10" stroke-linecap="round" fill="none"/></g>
<path d="M234.6 31.0H413.2V305.9H234.6" stroke="#f00" stroke-width="7" fill="none" stroke-dasharray="41 16 11.3 15.9" stroke-dashoffset="2.5"/>
<path d="M234.6 31.0V305.9" stroke="#f00" stroke-width="7" fill="none" stroke-dasharray="41 16 11.3 15.9" stroke-dashoffset="2.5"/>
<rect x="231.1" y="27.5" width="7" height="7" fill="#f00"/>
<path d="M701.5 172L1203 265.8" stroke="#f00" stroke-width="8.5" fill="none"/>
<path d="M1247.2 274.1L1185.3 237.8L1199 265.1L1176.4 285.6Z" fill="#f00"/>
<g clip-path="url(#ic)"><path d="M1492.7 417.3 1495.7 420.4 1498.7 423.6 1501.7 426.6 1504.7 429.6 1507.7 432.6 1510.7 435.5 1513.7 438.4 1516.7 441.2 1519.7 443.9 1522.7 446.6 1525.7 449.3 1528.7 451.9 1531.7 454.5 1534.7 457 1537.7 459.5 1540.7 461.9 1543.7 464.3 1546.7 466.7 1549.7 469 1552.7 471.3 1555.7 473.5 1558.7 475.7 1561.7 477.9 1564.7 480 1567.7 482.1 1570.7 484.2 1573.7 486.2 1576.7 488.2 1579.7 490.2 1582.7 492.1 1585.7 494 1588.7 495.9 1591.7 497.7 1594.7 499.6 1597.7 501.4 1600.7 503.1 1603.7 504.9 1606.7 506.6 1609.7 508.3 1612.7 510 1615.7 511.7 1618.7 513.3 1621.7 514.9 1624.7 516.5 1627.7 518.1 1630.7 519.7 1633.7 521.3 1636.7 522.8 1639.7 524.3 1642.7 525.9 1645.7 527.4 1648.7 528.9 1651.7 530.4 1654.7 531.8 1657.7 533.3 1660.7 534.8 1663.7 536.2 1666.7 537.7 1669.7 539.2 1672.7 540.6 1675.7 542.1 1678.7 543.5 1681.7 544.9 1684.7 546.4 1687.7 547.8 1690.7 549.3 1693.7 550.8 1696.7 552.2 1699.7 553.7 1702.7 555.1 1705.7 556.6 1708.7 558.1 1711.7 559.6" stroke="#f7a46b" stroke-width="4" fill="none" stroke-linejoin="round"/>
<path d="M1492.7 379.4 1495.7 381.2 1498.7 382.9 1501.7 384.7 1504.7 386.5 1507.7 388.2 1510.7 390 1513.7 391.7 1516.7 393.4 1519.7 395.1 1522.7 396.7 1525.7 398.4 1528.7 400 1531.7 401.7 1534.7 403.3 1537.7 404.9 1540.7 406.5 1543.7 408.1 1546.7 409.7 1549.7 411.2 1552.7 412.8 1555.7 414.3 1558.7 415.8 1561.7 417.3 1564.7 418.8 1567.7 420.3 1570.7 421.8 1573.7 423.2 1576.7 424.7 1579.7 426.1 1582.7 427.5 1585.7 428.9 1588.7 430.3 1591.7 431.7 1594.7 433.1 1597.7 434.5 1600.7 435.8 1603.7 437.2 1606.7 438.5 1609.7 439.8 1612.7 441.1 1615.7 442.5 1618.7 443.7 1621.7 445 1624.7 446.3 1627.7 447.6 1630.7 448.8 1633.7 450.1 1636.7 451.3 1639.7 452.5 1642.7 453.7 1645.7 454.9 1648.7 456.1 1651.7 457.3 1654.7 458.5 1657.7 459.7 1660.7 460.8 1663.7 462 1666.7 463.1 1669.7 464.3 1672.7 465.4 1675.7 466.5 1678.7 467.6 1681.7 468.7 1684.7 469.8 1687.7 470.9 1690.7 472 1693.7 473.1 1696.7 474.1 1699.7 475.2 1702.7 476.2 1705.7 477.3 1708.7 478.3 1711.7 479.3 1714.7 480.4 1717.7 481.4 1720.7 482.4 1723.7 483.4 1726.7 484.4 1729.7 485.4 1732.7 486.3 1735.7 487.3 1738.7 488.3 1741.7 489.2 1744.7 490.2 1747.7 491.2 1750.7 492.1 1753.7 493 1756.7 494 1759.7 494.9 1762.7 495.8 1765.7 496.7 1768.7 497.7 1771.7 498.6 1774.7 499.5 1777.7 500.4 1780.7 501.3 1783.7 502.1 1786.7 503 1789.7 503.9 1792.7 504.8 1795.7 505.6 1798.7 506.5 1801.7 507.3 1804.7 508.2 1807.7 509 1810.7 509.9 1813.7 510.7 1816.7 511.5 1819.7 512.3 1822.7 513.2 1825.7 514 1828.7 514.8 1831.7 515.6 1834.7 516.4 1837.7 517.2 1840.7 517.9 1843.7 518.7 1846.7 519.5 1849.7 520.3 1852.7 521 1855.7 521.8 1858.7 522.5 1861.7 523.3 1864.7 524 1867.7 524.8 1870.7 525.5 1873.7 526.2 1876.7 526.9 1879.7 527.7 1882.7 528.4 1885.7 529.1 1888.7 529.8 1891.7 530.5 1894.7 531.2 1897.7 531.8 1900.7 532.5 1903.7 533.2 1906.7 533.9 1909.7 534.5 1912.7 535.2 1915.7 535.8 1918.7 536.5 1921.7 537.1 1924.7 537.8 1927.7 538.4 1930.7 539 1933.7 539.7 1936.7 540.3 1939.7 540.9 1942.7 541.5 1945.7 542.1 1948.7 542.7 1951.7 543.3 1954.7 543.9 1957.7 544.5 1960.7 545 1963.7 545.6 1966.7 546.2 1969.7 546.8 1972.7 547.3 1975.7 547.9 1978.7 548.4 1981.7 549 1984.7 549.5 1987.7 550 1990.7 550.6 1993.7 551.1 1996.7 551.6 1999.7 552.1 2002.7 552.6 2005.7 553.1 2008.7 553.6 2011.7 554.1 2014.7 554.6 2017.7 555.1 2020.7 555.6 2023.7 556.1 2026.7 556.5 2029.7 557 2032.7 557.4 2035.7 557.9 2038.7 558.4" stroke="#b982b5" stroke-width="4" fill="none" stroke-linejoin="round"/>
<path d="M1492.7 258 1495.7 259.4 1498.7 260.8 1501.7 262.2 1504.7 263.6 1507.7 264.9 1510.7 266.3 1513.7 267.7 1516.7 269.1 1519.7 270.4 1522.7 271.8 1525.7 273.2 1528.7 274.5 1531.7 275.9 1534.7 277.2 1537.7 278.5 1540.7 279.9 1543.7 281.2 1546.7 282.5 1549.7 283.8 1552.7 285.2 1555.7 286.5 1558.7 287.8 1561.7 289.1 1564.7 290.4 1567.7 291.7 1570.7 293 1573.7 294.2 1576.7 295.5 1579.7 296.8 1582.7 298.1 1585.7 299.3 1588.7 300.6 1591.7 301.9 1594.7 303.1 1597.7 304.4 1600.7 305.6 1603.7 306.9 1606.7 308.1 1609.7 309.3 1612.7 310.6 1615.7 311.8 1618.7 313 1621.7 314.2 1624.7 315.4 1627.7 316.7 1630.7 317.9 1633.7 319.1 1636.7 320.3 1639.7 321.4 1642.7 322.6 1645.7 323.8 1648.7 325 1651.7 326.2 1654.7 327.4 1657.7 328.5 1660.7 329.7 1663.7 330.8 1666.7 332 1669.7 333.2 1672.7 334.3 1675.7 335.4 1678.7 336.6 1681.7 337.7 1684.7 338.9 1687.7 340 1690.7 341.1 1693.7 342.2 1696.7 343.3 1699.7 344.5 1702.7 345.6 1705.7 346.7 1708.7 347.8 1711.7 348.9 1714.7 350 1717.7 351.1 1720.7 352.1 1723.7 353.2 1726.7 354.3 1729.7 355.4 1732.7 356.4 1735.7 357.5 1738.7 358.6 1741.7 359.6 1744.7 360.7 1747.7 361.7 1750.7 362.8 1753.7 363.8 1756.7 364.9 1759.7 365.9 1762.7 366.9 1765.7 368 1768.7 369 1771.7 370 1774.7 371 1777.7 372 1780.7 373.1 1783.7 374.1 1786.7 375.1 1789.7 376.1 1792.7 377.1 1795.7 378.1 1798.7 379 1801.7 380 1804.7 381 1807.7 382 1810.7 383 1813.7 383.9 1816.7 384.9 1819.7 385.9 1822.7 386.8 1825.7 387.8 1828.7 388.7 1831.7 389.7 1834.7 390.6 1837.7 391.6 1840.7 392.5 1843.7 393.5 1846.7 394.4 1849.7 395.3 1852.7 396.2 1855.7 397.2 1858.7 398.1 1861.7 399 1864.7 399.9 1867.7 400.8 1870.7 401.7 1873.7 402.6 1876.7 403.5 1879.7 404.4 1882.7 405.3 1885.7 406.2 1888.7 407.1 1891.7 408 1894.7 408.9 1897.7 409.7 1900.7 410.6 1903.7 411.5 1906.7 412.3 1909.7 413.2 1912.7 414.1 1915.7 414.9 1918.7 415.8 1921.7 416.6 1924.7 417.5 1927.7 418.3 1930.7 419.2 1933.7 420 1936.7 420.8 1939.7 421.7 1942.7 422.5 1945.7 423.3 1948.7 424.1 1951.7 424.9 1954.7 425.8 1957.7 426.6 1960.7 427.4 1963.7 428.2 1966.7 429 1969.7 429.8 1972.7 430.6 1975.7 431.4 1978.7 432.2 1981.7 433 1984.7 433.7 1987.7 434.5 1990.7 435.3 1993.7 436.1 1996.7 436.9 1999.7 437.6 2002.7 438.4 2005.7 439.2 2008.7 439.9 2011.7 440.7 2014.7 441.4 2017.7 442.2 2020.7 442.9 2023.7 443.7 2026.7 444.4 2029.7 445.2 2032.7 445.9 2035.7 446.6 2038.7 447.4 2041.7 448.1 2044.7 448.8 2047.7 449.6 2050.7 450.3 2053.7 451 2056.7 451.7 2059.7 452.4 2062.7 453.1 2065.7 453.9 2068.7 454.6 2071.7 455.3 2074.7 456" stroke="#716a9f" stroke-width="4" fill="none" stroke-linejoin="round"/>
<path d="M1492.7 185.9 1495.7 187.5 1498.7 189.2 1501.7 190.8 1504.7 192.4 1507.7 193.9 1510.7 195.5 1513.7 197.1 1516.7 198.7 1519.7 200.3 1522.7 201.8 1525.7 203.4 1528.7 205 1531.7 206.5 1534.7 208.1 1537.7 209.6 1540.7 211.2 1543.7 212.7 1546.7 214.2 1549.7 215.8 1552.7 217.3 1555.7 218.8 1558.7 220.3 1561.7 221.8 1564.7 223.3 1567.7 224.8 1570.7 226.3 1573.7 227.8 1576.7 229.3 1579.7 230.8 1582.7 232.3 1585.7 233.7 1588.7 235.2 1591.7 236.7 1594.7 238.1 1597.7 239.6 1600.7 241 1603.7 242.5 1606.7 243.9 1609.7 245.3 1612.7 246.8 1615.7 248.2 1618.7 249.6 1621.7 251 1624.7 252.4 1627.7 253.9 1630.7 255.3 1633.7 256.7 1636.7 258.1 1639.7 259.4 1642.7 260.8 1645.7 262.2 1648.7 263.6 1651.7 264.9 1654.7 266.3 1657.7 267.7 1660.7 269 1663.7 270.4 1666.7 271.7 1669.7 273.1 1672.7 274.4 1675.7 275.7 1678.7 277.1 1681.7 278.4 1684.7 279.7 1687.7 281 1690.7 282.3 1693.7 283.7 1696.7 285 1699.7 286.2 1702.7 287.5 1705.7 288.8 1708.7 290.1 1711.7 291.4 1714.7 292.7 1717.7 293.9 1720.7 295.2 1723.7 296.5 1726.7 297.7 1729.7 299 1732.7 300.2 1735.7 301.5 1738.7 302.7 1741.7 303.9 1744.7 305.2 1747.7 306.4 1750.7 307.6 1753.7 308.8 1756.7 310 1759.7 311.2 1762.7 312.4 1765.7 313.6 1768.7 314.8 1771.7 316 1774.7 317.2 1777.7 318.4 1780.7 319.6 1783.7 320.7 1786.7 321.9 1789.7 323.1 1792.7 324.2 1795.7 325.4 1798.7 326.5 1801.7 327.7 1804.7 328.8 1807.7 329.9 1810.7 331.1 1813.7 332.2 1816.7 333.3 1819.7 334.4 1822.7 335.5 1825.7 336.6 1828.7 337.7 1831.7 338.8 1834.7 339.9 1837.7 341 1840.7 342.1 1843.7 343.2 1846.7 344.3 1849.7 345.3 1852.7 346.4 1855.7 347.5 1858.7 348.5 1861.7 349.6 1864.7 350.6 1867.7 351.7 1870.7 352.7 1873.7 353.8 1876.7 354.8 1879.7 355.8 1882.7 356.8 1885.7 357.9 1888.7 358.9 1891.7 359.9 1894.7 360.9 1897.7 361.9 1900.7 362.9 1903.7 363.9 1906.7 364.9 1909.7 365.8 1912.7 366.8 1915.7 367.8 1918.7 368.8 1921.7 369.7 1924.7 370.7 1927.7 371.7 1930.7 372.6 1933.7 373.6 1936.7 374.5 1939.7 375.4 1942.7 376.4 1945.7 377.3 1948.7 378.2 1951.7 379.2 1954.7 380.1 1957.7 381 1960.7 381.9 1963.7 382.8 1966.7 383.7 1969.7 384.6 1972.7 385.5 1975.7 386.4 1978.7 387.3 1981.7 388.1 1984.7 389 1987.7 389.9 1990.7 390.7 1993.7 391.6 1996.7 392.5 1999.7 393.3 2002.7 394.2 2005.7 395 2008.7 395.8 2011.7 396.7 2014.7 397.5 2017.7 398.3 2020.7 399.2 2023.7 400 2026.7 400.8 2029.7 401.6 2032.7 402.4 2035.7 403.2 2038.7 404 2041.7 404.8 2044.7 405.6 2047.7 406.4 2050.7 407.1 2053.7 407.9 2056.7 408.7 2059.7 409.5 2062.7 410.2 2065.7 411 2068.7 411.7 2071.7 412.5 2074.7 413.2" stroke="#30508a" stroke-width="4" fill="none" stroke-linejoin="round"/>
<path d="M1492.7 129.5 1495.7 131 1498.7 132.4 1501.7 133.9 1504.7 135.4 1507.7 136.9 1510.7 138.4 1513.7 139.9 1516.7 141.4 1519.7 142.8 1522.7 144.3 1525.7 145.8 1528.7 147.3 1531.7 148.7 1534.7 150.2 1537.7 151.6 1540.7 153.1 1543.7 154.6 1546.7 156 1549.7 157.5 1552.7 158.9 1555.7 160.4 1558.7 161.8 1561.7 163.3 1564.7 164.7 1567.7 166.1 1570.7 167.6 1573.7 169 1576.7 170.4 1579.7 171.8 1582.7 173.3 1585.7 174.7 1588.7 176.1 1591.7 177.5 1594.7 178.9 1597.7 180.3 1600.7 181.8 1603.7 183.2 1606.7 184.6 1609.7 186 1612.7 187.3 1615.7 188.7 1618.7 190.1 1621.7 191.5 1624.7 192.9 1627.7 194.3 1630.7 195.7 1633.7 197 1636.7 198.4 1639.7 199.8 1642.7 201.1 1645.7 202.5 1648.7 203.9 1651.7 205.2 1654.7 206.6 1657.7 207.9 1660.7 209.3 1663.7 210.6 1666.7 212 1669.7 213.3 1672.7 214.6 1675.7 216 1678.7 217.3 1681.7 218.6 1684.7 220 1687.7 221.3 1690.7 222.6 1693.7 223.9 1696.7 225.2 1699.7 226.5 1702.7 227.8 1705.7 229.1 1708.7 230.4 1711.7 231.7 1714.7 233 1717.7 234.3 1720.7 235.6 1723.7 236.9 1726.7 238.1 1729.7 239.4 1732.7 240.7 1735.7 242 1738.7 243.2 1741.7 244.5 1744.7 245.7 1747.7 247 1750.7 248.2 1753.7 249.5 1756.7 250.7 1759.7 252 1762.7 253.2 1765.7 254.4 1768.7 255.7 1771.7 256.9 1774.7 258.1 1777.7 259.3 1780.7 260.6 1783.7 261.8 1786.7 263 1789.7 264.2 1792.7 265.4 1795.7 266.6 1798.7 267.8 1801.7 269 1804.7 270.2 1807.7 271.3 1810.7 272.5 1813.7 273.7 1816.7 274.9 1819.7 276 1822.7 277.2 1825.7 278.4 1828.7 279.5 1831.7 280.7 1834.7 281.8 1837.7 283 1840.7 284.1 1843.7 285.2 1846.7 286.4 1849.7 287.5 1852.7 288.6 1855.7 289.7 1858.7 290.9 1861.7 292 1864.7 293.1 1867.7 294.2 1870.7 295.3 1873.7 296.4 1876.7 297.5 1879.7 298.6 1882.7 299.7 1885.7 300.7 1888.7 301.8 1891.7 302.9 1894.7 304 1897.7 305 1900.7 306.1 1903.7 307.2 1906.7 308.2 1909.7 309.3 1912.7 310.3 1915.7 311.3 1918.7 312.4 1921.7 313.4 1924.7 314.4 1927.7 315.5 1930.7 316.5 1933.7 317.5 1936.7 318.5 1939.7 319.5 1942.7 320.5 1945.7 321.5 1948.7 322.5 1951.7 323.5 1954.7 324.5 1957.7 325.5 1960.7 326.4 1963.7 327.4 1966.7 328.4 1969.7 329.4 1972.7 330.3 1975.7 331.3 1978.7 332.2 1981.7 333.2 1984.7 334.1 1987.7 335 1990.7 336 1993.7 336.9 1996.7 337.8 1999.7 338.7 2002.7 339.7 2005.7 340.6 2008.7 341.5 2011.7 342.4 2014.7 343.3 2017.7 344.2 2020.7 345 2023.7 345.9 2026.7 346.8 2029.7 347.7 2032.7 348.5 2035.7 349.4 2038.7 350.3 2041.7 351.1 2044.7 352 2047.7 352.8 2050.7 353.6 2053.7 354.5 2056.7 355.3 2059.7 356.1 2062.7 357 2065.7 357.8 2068.7 358.6 2071.7 359.4 2074.7 360.2" stroke="#11305f" stroke-width="4" fill="none" stroke-linejoin="round"/></g>
<g font-family="'Liberation Sans', Arial, Helvetica, sans-serif" fill="#000">
<path d="M1484.2 555.5H1492.7M1484.2 392.7H1492.7M1484.2 229.8H1492.7M1484.2 67H1492.7M1488.5 474.1H1492.7M1488.5 311.2H1492.7M1488.5 148.4H1492.7M1492.7 555.5V562.7M1686.5 555.5V562.7M1880.4 555.5V562.7M2074.2 555.5V562.7" stroke="#000" stroke-width="4.5" fill="none"/>
<rect x="1492.7" y="67" width="581.5" height="488.5" fill="none" stroke="#000" stroke-width="4.5"/>
<text x="1466.5" y="567" font-size="34" font-weight="bold" text-anchor="end">5.0×10</text>
<text x="1467" y="552.7" font-size="22" font-weight="bold">4</text>
<text x="1466.5" y="404.2" font-size="34" font-weight="bold" text-anchor="end">1.0×10</text>
<text x="1467" y="389.9" font-size="22" font-weight="bold">5</text>
<text x="1466.5" y="241.3" font-size="34" font-weight="bold" text-anchor="end">1.5×10</text>
<text x="1467" y="227" font-size="22" font-weight="bold">5</text>
<text x="1466.5" y="78.5" font-size="34" font-weight="bold" text-anchor="end">2.0×10</text>
<text x="1467" y="64.2" font-size="22" font-weight="bold">5</text>
<text x="1492.7" y="592.6" font-size="34" font-weight="bold" text-anchor="middle">0.0</text>
<text x="1686.5" y="592.6" font-size="34" font-weight="bold" text-anchor="middle">0.2</text>
<text x="1880.4" y="592.6" font-size="34" font-weight="bold" text-anchor="middle">0.4</text>
<text x="2074.2" y="592.6" font-size="34" font-weight="bold" text-anchor="middle">0.6</text>
<text transform="translate(873.3 1685.6) scale(1 1.04)" font-size="78">Magnetic field (T)</text>
<text transform="translate(98.5 934.3) rotate(-90) scale(1 1.04)" font-size="78">J<tspan font-size="54">c</tspan> (A/cm<tspan font-size="39" dy="-31">2</tspan><tspan dy="31">)</tspan></text>
<text x="507" y="781.1" font-size="85">20K</text>
<circle cx="461.5" cy="993" r="10.3" fill="#11305f"/>
<text transform="translate(545.6 1012.5) scale(1 1.045)" font-size="59">0.9wt.% Φ=2μm</text>
<circle cx="461.5" cy="1066.5" r="10.3" fill="#30508a"/>
<text transform="translate(545.6 1086.5) scale(1 1.045)" font-size="59">0.9wt.% Φ=3μm</text>
<circle cx="461.5" cy="1140.5" r="10.3" fill="#716a9f"/>
<text transform="translate(545.6 1160.5) scale(1 1.045)" font-size="59">0.9wt.% Φ=4μm</text>
<circle cx="461.5" cy="1213.8" r="10.3" fill="#b982b5"/>
<text transform="translate(545.6 1234.5) scale(1 1.045)" font-size="59">1.0wt.% Φ=5μm</text>
<circle cx="461.5" cy="1287.6" r="10.3" fill="#f7a46b"/>
<text transform="translate(543.8 1308.0) scale(1 1.045)" font-size="60">MgB<tspan font-size="36">2</tspan></text>
</g>
</svg></body></html>
